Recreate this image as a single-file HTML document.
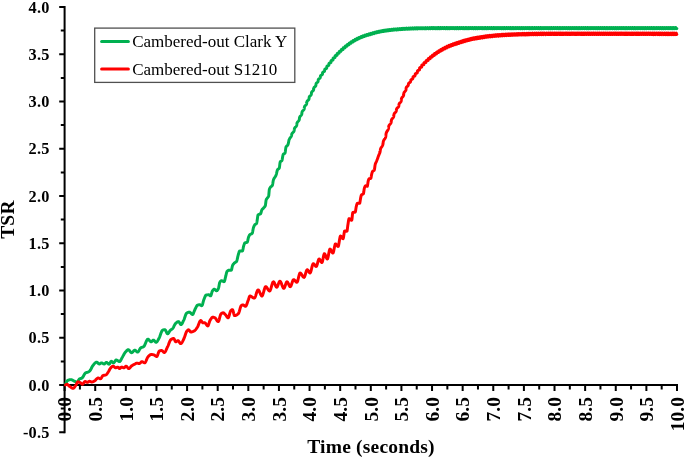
<!DOCTYPE html>
<html lang="en">
<head>
<meta charset="utf-8">
<title>TSR vs Time</title>
<style>
html,body{margin:0;padding:0;background:#fff;}
body{width:685px;height:458px;overflow:hidden;}
svg{display:block;will-change:transform;font-family:"Liberation Serif","Times New Roman",serif;}
.ax{stroke:#000;stroke-width:2;fill:none;stroke-linecap:butt;}
.yl text{font-size:16.3px;letter-spacing:0.25px;font-weight:700;text-anchor:end;fill:#000;}
.xl text{font-size:19.5px;font-weight:700;text-anchor:end;fill:#000;}
.ttl{font-size:19.5px;letter-spacing:0.2px;font-weight:700;text-anchor:middle;fill:#000;}
.lg text{font-size:17px;font-weight:400;fill:#000;}
.cv{fill:none;stroke-width:2.95;stroke-linecap:round;stroke-linejoin:round;}
</style>
</head>
<body>
<svg width="685" height="458" viewBox="0 0 685 458">
<rect x="0" y="0" width="685" height="458" fill="#fff"/>
<g class="ax">
<line x1="64.6" y1="6.0" x2="64.6" y2="433.25"/>
<line x1="63.599999999999994" y1="385.0" x2="678.0" y2="385.0"/>
<path d="M59.20 432.25H64.6M60.80 408.62H64.6M59.20 385.00H64.6M60.80 361.38H64.6M59.20 337.75H64.6M60.80 314.12H64.6M59.20 290.50H64.6M60.80 266.88H64.6M59.20 243.25H64.6M60.80 219.62H64.6M59.20 196.00H64.6M60.80 172.38H64.6M59.20 148.75H64.6M60.80 125.12H64.6M59.20 101.50H64.6M60.80 77.88H64.6M59.20 54.25H64.6M60.80 30.62H64.6M59.20 7.00H64.6M64.60 385.0V390.90M79.91 385.0V389.50M95.22 385.0V390.90M110.53 385.0V389.50M125.84 385.0V390.90M141.15 385.0V389.50M156.46 385.0V390.90M171.77 385.0V389.50M187.08 385.0V390.90M202.39 385.0V389.50M217.70 385.0V390.90M233.01 385.0V389.50M248.32 385.0V390.90M263.63 385.0V389.50M278.94 385.0V390.90M294.25 385.0V389.50M309.56 385.0V390.90M324.87 385.0V389.50M340.18 385.0V390.90M355.49 385.0V389.50M370.80 385.0V390.90M386.11 385.0V389.50M401.42 385.0V390.90M416.73 385.0V389.50M432.04 385.0V390.90M447.35 385.0V389.50M462.66 385.0V390.90M477.97 385.0V389.50M493.28 385.0V390.90M508.59 385.0V389.50M523.90 385.0V390.90M539.21 385.0V389.50M554.52 385.0V390.90M569.83 385.0V389.50M585.14 385.0V390.90M600.45 385.0V389.50M615.76 385.0V390.90M631.07 385.0V389.50M646.38 385.0V390.90M661.69 385.0V389.50M677.00 385.0V390.90"/>
</g>
<g class="yl">
<text x="49.7" y="437.85">-0.5</text>
<text x="49.7" y="390.60">0.0</text>
<text x="49.7" y="343.35">0.5</text>
<text x="49.7" y="296.10">1.0</text>
<text x="49.7" y="248.85">1.5</text>
<text x="49.7" y="201.60">2.0</text>
<text x="49.7" y="154.35">2.5</text>
<text x="49.7" y="107.10">3.0</text>
<text x="49.7" y="59.85">3.5</text>
<text x="49.7" y="12.60">4.0</text>
</g>
<g class="xl">
<text transform="translate(71.35 397.0) rotate(-90)">0.0</text>
<text transform="translate(101.97 397.0) rotate(-90)">0.5</text>
<text transform="translate(132.59 397.0) rotate(-90)">1.0</text>
<text transform="translate(163.21 397.0) rotate(-90)">1.5</text>
<text transform="translate(193.83 397.0) rotate(-90)">2.0</text>
<text transform="translate(224.45 397.0) rotate(-90)">2.5</text>
<text transform="translate(255.07 397.0) rotate(-90)">3.0</text>
<text transform="translate(285.69 397.0) rotate(-90)">3.5</text>
<text transform="translate(316.31 397.0) rotate(-90)">4.0</text>
<text transform="translate(346.93 397.0) rotate(-90)">4.5</text>
<text transform="translate(377.55 397.0) rotate(-90)">5.0</text>
<text transform="translate(408.17 397.0) rotate(-90)">5.5</text>
<text transform="translate(438.79 397.0) rotate(-90)">6.0</text>
<text transform="translate(469.41 397.0) rotate(-90)">6.5</text>
<text transform="translate(500.03 397.0) rotate(-90)">7.0</text>
<text transform="translate(530.65 397.0) rotate(-90)">7.5</text>
<text transform="translate(561.27 397.0) rotate(-90)">8.0</text>
<text transform="translate(591.89 397.0) rotate(-90)">8.5</text>
<text transform="translate(622.51 397.0) rotate(-90)">9.0</text>
<text transform="translate(653.13 397.0) rotate(-90)">9.5</text>
<text transform="translate(683.75 397.0) rotate(-90)">10.0</text>
</g>
<text class="ttl" x="371.0" y="453.4">Time (seconds)</text>
<text class="ttl" transform="translate(14.3 219.6) rotate(-90)">TSR</text>
<polyline class="cv" stroke="#00b050" points="65.50,384.40 65.75,383.78 66.00,383.17 66.25,382.58 66.50,382.04 66.75,381.54 67.00,381.12 67.25,380.79 67.50,380.56 67.75,380.43 68.00,380.31 68.25,380.20 68.50,380.10 68.75,380.00 69.00,379.92 69.25,379.84 69.50,379.78 69.75,379.72 70.00,379.67 70.25,379.64 70.50,379.62 70.75,379.60 71.00,379.60 71.25,379.63 71.50,379.70 71.75,379.79 72.00,379.90 72.25,380.02 72.50,380.16 72.75,380.31 73.00,380.46 73.25,380.61 73.50,380.76 73.75,380.90 74.00,381.02 74.25,381.12 74.50,381.22 74.75,381.33 75.00,381.44 75.25,381.55 75.50,381.66 75.75,381.76 76.00,381.84 76.25,381.91 76.50,381.97 76.75,381.99 77.00,381.99 77.25,381.88 77.50,381.67 77.75,381.37 78.00,381.02 78.25,380.64 78.50,380.23 78.75,379.84 79.00,379.48 79.25,379.16 79.50,378.92 79.75,378.78 80.00,378.69 80.25,378.61 80.50,378.55 80.75,378.50 81.00,378.45 81.25,378.39 81.50,378.31 81.75,378.22 82.00,378.08 82.25,377.86 82.50,377.58 82.75,377.23 83.00,376.84 83.25,376.41 83.50,375.96 83.75,375.50 84.00,375.04 84.25,374.59 84.50,374.16 84.75,373.77 85.00,373.42 85.25,373.14 85.50,372.92 85.75,372.78 86.00,372.68 86.25,372.61 86.50,372.55 86.75,372.49 87.00,372.44 87.25,372.38 87.50,372.31 87.75,372.22 88.00,372.11 88.25,371.98 88.50,371.84 88.75,371.67 89.00,371.49 89.25,371.29 89.50,371.08 89.75,370.85 90.00,370.60 90.25,370.31 90.50,369.94 90.75,369.51 91.00,369.04 91.25,368.53 91.50,368.02 91.75,367.50 92.00,367.01 92.25,366.54 92.50,366.12 92.75,365.76 93.00,365.45 93.25,365.14 93.50,364.82 93.75,364.50 94.00,364.18 94.25,363.88 94.50,363.59 94.75,363.31 95.00,363.06 95.25,362.83 95.50,362.63 95.75,362.47 96.00,362.34 96.25,362.25 96.50,362.20 96.75,362.22 97.00,362.31 97.25,362.46 97.50,362.67 97.75,362.90 98.00,363.15 98.25,363.40 98.50,363.62 98.75,363.81 99.00,363.94 99.25,364.00 99.50,363.97 99.75,363.88 100.00,363.74 100.25,363.56 100.50,363.38 100.75,363.20 101.00,363.04 101.25,362.94 101.50,362.90 101.75,362.93 102.00,363.00 102.25,363.11 102.50,363.24 102.75,363.39 103.00,363.54 103.25,363.69 103.50,363.82 103.75,363.92 104.00,363.98 104.25,364.00 104.50,363.92 104.75,363.75 105.00,363.52 105.25,363.25 105.50,362.98 105.75,362.74 106.00,362.54 106.25,362.42 106.50,362.41 106.75,362.48 107.00,362.63 107.25,362.82 107.50,363.05 107.75,363.30 108.00,363.55 108.25,363.78 108.50,363.97 108.75,364.12 109.00,364.19 109.25,364.16 109.50,363.95 109.75,363.59 110.00,363.14 110.25,362.65 110.50,362.17 110.75,361.75 111.00,361.45 111.25,361.30 111.50,361.34 111.75,361.47 112.00,361.68 112.25,361.94 112.50,362.21 112.75,362.47 113.00,362.69 113.25,362.84 113.50,362.90 113.75,362.83 114.00,362.64 114.25,362.35 114.50,362.00 114.75,361.61 115.00,361.21 115.25,360.82 115.50,360.48 115.75,360.21 116.00,360.05 116.25,360.00 116.50,360.04 116.75,360.12 117.00,360.24 117.25,360.38 117.50,360.55 117.75,360.73 118.00,360.91 118.25,361.09 118.50,361.25 118.75,361.39 119.00,361.50 119.25,361.57 119.50,361.60 119.75,361.53 120.00,361.35 120.25,361.07 120.50,360.70 120.75,360.27 121.00,359.80 121.25,359.30 121.50,358.79 121.75,358.30 122.00,357.84 122.25,357.42 122.50,357.01 122.75,356.57 123.00,356.12 123.25,355.66 123.50,355.19 123.75,354.73 124.00,354.27 124.25,353.83 124.50,353.40 124.75,353.00 125.00,352.63 125.25,352.29 125.50,352.00 125.75,351.72 126.00,351.44 126.25,351.15 126.50,350.88 126.75,350.62 127.00,350.37 127.25,350.16 127.50,349.98 127.75,349.84 128.00,349.74 128.25,349.70 128.50,349.73 128.75,349.85 129.00,350.05 129.25,350.30 129.50,350.60 129.75,350.93 130.00,351.27 130.25,351.60 130.50,351.92 130.75,352.21 131.00,352.44 131.25,352.61 131.50,352.69 131.75,352.68 132.00,352.59 132.25,352.43 132.50,352.22 132.75,351.96 133.00,351.68 133.25,351.39 133.50,351.10 133.75,350.83 134.00,350.59 134.25,350.40 134.50,350.26 134.75,350.20 135.00,350.23 135.25,350.33 135.50,350.50 135.75,350.71 136.00,350.95 136.25,351.20 136.50,351.45 136.75,351.68 137.00,351.88 137.25,352.02 137.50,352.09 137.75,352.08 138.00,351.94 138.25,351.70 138.50,351.38 138.75,350.99 139.00,350.56 139.25,350.10 139.50,349.63 139.75,349.17 140.00,348.74 140.25,348.36 140.50,348.05 140.75,347.83 141.00,347.69 141.25,347.57 141.50,347.47 141.75,347.39 142.00,347.31 142.25,347.24 142.50,347.17 142.75,347.09 143.00,347.00 143.25,346.89 143.50,346.76 143.75,346.59 144.00,346.32 144.25,345.95 144.50,345.51 144.75,345.00 145.00,344.44 145.25,343.85 145.50,343.24 145.75,342.62 146.00,342.01 146.25,341.43 146.50,340.88 146.75,340.38 147.00,339.96 147.25,339.61 147.50,339.36 147.75,339.22 148.00,339.21 148.25,339.28 148.50,339.43 148.75,339.63 149.00,339.87 149.25,340.15 149.50,340.44 149.75,340.74 150.00,341.02 150.25,341.28 150.50,341.50 150.75,341.67 151.00,341.77 151.25,341.80 151.50,341.71 151.75,341.53 152.00,341.29 152.25,341.01 152.50,340.72 152.75,340.46 153.00,340.25 153.25,340.12 153.50,340.11 153.75,340.20 154.00,340.38 154.25,340.62 154.50,340.90 154.75,341.20 155.00,341.50 155.25,341.78 155.50,342.02 155.75,342.20 156.00,342.29 156.25,342.28 156.50,342.17 156.75,341.97 157.00,341.70 157.25,341.37 157.50,340.98 157.75,340.56 158.00,340.11 158.25,339.66 158.50,339.20 158.75,338.75 159.00,338.33 159.25,337.83 159.50,337.26 159.75,336.62 160.00,335.94 160.25,335.24 160.50,334.52 160.75,333.80 161.00,333.10 161.25,332.44 161.50,331.83 161.75,331.28 162.00,330.82 162.25,330.46 162.50,330.21 162.75,330.08 163.00,330.01 163.25,329.94 163.50,329.88 163.75,329.82 164.00,329.78 164.25,329.74 164.50,329.72 164.75,329.70 165.00,329.72 165.25,329.89 165.50,330.22 165.75,330.66 166.00,331.19 166.25,331.75 166.50,332.31 166.75,332.84 167.00,333.28 167.25,333.61 167.50,333.78 167.75,333.78 168.00,333.64 168.25,333.40 168.50,333.08 168.75,332.70 169.00,332.28 169.25,331.84 169.50,331.41 169.75,331.00 170.00,330.64 170.25,330.35 170.50,330.13 170.75,329.94 171.00,329.77 171.25,329.61 171.50,329.46 171.75,329.30 172.00,329.12 172.25,328.93 172.50,328.70 172.75,328.41 173.00,328.06 173.25,327.65 173.50,327.19 173.75,326.71 174.00,326.20 174.25,325.69 174.50,325.19 174.75,324.71 175.00,324.26 175.25,323.86 175.50,323.52 175.75,323.24 176.00,323.03 176.25,322.81 176.50,322.60 176.75,322.40 177.00,322.21 177.25,322.04 177.50,321.90 177.75,321.77 178.00,321.68 178.25,321.62 178.50,321.60 178.75,321.68 179.00,321.91 179.25,322.25 179.50,322.66 179.75,323.10 180.00,323.54 180.25,323.95 180.50,324.29 180.75,324.52 181.00,324.60 181.25,324.53 181.50,324.35 181.75,324.07 182.00,323.70 182.25,323.26 182.50,322.78 182.75,322.26 183.00,321.73 183.25,321.20 183.50,320.69 183.75,320.19 184.00,319.61 184.25,318.94 184.50,318.21 184.75,317.46 185.00,316.70 185.25,315.95 185.50,315.24 185.75,314.60 186.00,314.04 186.25,313.59 186.50,313.28 186.75,313.10 187.00,312.93 187.25,312.78 187.50,312.64 187.75,312.51 188.00,312.40 188.25,312.30 188.50,312.22 188.75,312.16 189.00,312.12 189.25,312.10 189.50,312.13 189.75,312.22 190.00,312.38 190.25,312.58 190.50,312.82 190.75,313.08 191.00,313.35 191.25,313.62 191.50,313.88 191.75,314.10 192.00,314.29 192.25,314.42 192.50,314.49 192.75,314.45 193.00,314.20 193.25,313.76 193.50,313.19 193.75,312.53 194.00,311.84 194.25,311.15 194.50,310.53 194.75,310.00 195.00,309.50 195.25,308.96 195.50,308.41 195.75,307.86 196.00,307.32 196.25,306.82 196.50,306.35 196.75,305.94 197.00,305.60 197.25,305.35 197.50,305.20 197.75,305.11 198.00,305.02 198.25,304.94 198.50,304.87 198.75,304.81 199.00,304.76 199.25,304.73 199.50,304.71 199.75,304.70 200.00,304.76 200.25,304.87 200.50,305.02 200.75,305.20 201.00,305.38 201.25,305.53 201.50,305.64 201.75,305.70 202.00,305.59 202.25,305.17 202.50,304.50 202.75,303.65 203.00,302.70 203.25,301.71 203.50,300.75 203.75,299.89 204.00,299.20 204.25,298.60 204.50,297.97 204.75,297.34 205.00,296.73 205.25,296.18 205.50,295.70 205.75,295.33 206.00,295.08 206.25,294.99 206.50,294.96 206.75,294.93 207.00,294.90 207.25,294.88 207.50,294.85 207.75,294.84 208.00,294.82 208.25,294.81 208.50,294.80 208.75,294.80 209.00,294.81 209.25,294.92 209.50,295.11 209.75,295.35 210.00,295.59 210.25,295.78 210.50,295.89 210.75,295.82 211.00,295.38 211.25,294.66 211.50,293.77 211.75,292.83 212.00,291.96 212.25,291.27 212.50,290.86 212.75,290.51 213.00,290.18 213.25,289.88 213.50,289.61 213.75,289.41 214.00,289.26 214.25,289.20 214.50,289.23 214.75,289.36 215.00,289.55 215.25,289.79 215.50,290.05 215.75,290.31 216.00,290.53 216.25,290.70 216.50,290.79 216.75,290.78 217.00,290.65 217.25,290.41 217.50,290.09 217.75,289.69 218.00,289.24 218.25,288.73 218.50,288.20 218.75,287.34 219.00,286.03 219.25,284.58 219.50,283.27 219.75,282.40 220.00,281.99 220.25,281.63 220.50,281.32 220.75,281.06 221.00,280.87 221.25,280.74 221.50,280.70 221.75,280.73 222.00,280.80 222.25,280.90 222.50,281.03 222.75,281.17 223.00,281.31 223.25,281.45 223.50,281.56 223.75,281.65 224.00,281.70 224.25,281.61 224.50,281.14 224.75,280.34 225.00,279.34 225.25,278.24 225.50,277.17 225.75,276.22 226.00,275.17 226.25,274.02 226.50,272.92 226.75,272.03 227.00,271.50 227.25,271.22 227.50,270.97 227.75,270.75 228.00,270.56 228.25,270.41 228.50,270.29 228.75,270.22 229.00,270.20 229.25,270.20 229.50,270.20 229.75,270.20 230.00,270.20 230.25,270.20 230.50,270.20 230.75,270.20 231.00,270.20 231.25,270.20 231.50,269.94 231.75,269.04 232.00,267.80 232.25,266.53 232.50,265.54 232.75,265.03 233.00,264.62 233.25,264.27 233.50,263.96 233.75,263.68 234.00,263.43 234.25,263.20 234.50,262.98 234.75,262.76 235.00,262.57 235.25,262.41 235.50,262.28 235.75,262.13 236.00,261.97 236.25,261.77 236.50,261.50 236.75,261.02 237.00,260.23 237.25,259.23 237.50,258.09 237.75,256.92 238.00,255.79 238.25,254.80 238.50,253.99 238.75,253.15 239.00,252.32 239.25,251.61 239.50,251.13 239.75,251.00 240.00,251.00 240.25,251.00 240.50,251.00 240.75,251.00 241.00,251.00 241.25,251.00 241.50,251.00 241.75,251.00 242.00,251.00 242.25,251.00 242.50,250.93 242.75,250.27 243.00,249.14 243.25,247.80 243.50,246.55 243.75,245.65 244.00,244.90 244.25,244.17 244.50,243.53 244.75,243.05 245.00,242.80 245.25,242.71 245.50,242.64 245.75,242.60 246.00,242.57 246.25,242.54 246.50,242.50 246.75,242.45 247.00,242.38 247.25,242.26 247.50,241.68 247.75,240.64 248.00,239.39 248.25,238.19 248.50,237.30 248.75,236.66 249.00,236.06 249.25,235.52 249.50,235.08 249.75,234.75 250.00,234.53 250.25,234.36 250.50,234.24 250.75,234.14 251.00,234.05 251.25,233.95 251.50,233.84 251.75,233.70 252.00,233.50 252.25,233.23 252.50,232.47 252.75,231.24 253.00,229.82 253.25,228.48 253.50,227.50 253.75,226.82 254.00,226.22 254.25,225.68 254.50,225.23 254.75,224.86 255.00,224.59 255.25,224.39 255.50,224.25 255.75,224.11 256.00,223.96 256.25,223.75 256.50,223.45 256.75,222.85 257.00,221.45 257.25,219.80 257.50,218.05 257.75,216.09 258.00,215.00 258.25,214.76 258.50,214.58 258.75,214.46 259.00,214.37 259.25,214.30 259.50,214.24 259.75,214.18 260.00,214.09 260.25,213.96 260.50,213.79 260.75,213.47 261.00,212.78 261.25,211.86 261.50,210.91 261.75,210.12 262.00,209.65 262.25,209.32 262.50,209.05 262.75,208.82 263.00,208.60 263.25,208.38 263.50,208.12 263.75,207.83 264.00,207.56 264.25,207.31 264.50,207.03 264.75,206.70 265.00,206.30 265.25,205.78 265.50,204.95 265.75,202.78 266.00,200.58 266.25,199.69 266.50,199.17 266.75,198.78 267.00,198.44 267.25,198.08 267.50,197.71 267.75,197.42 268.00,197.14 268.25,196.80 268.50,196.33 268.75,195.56 269.00,192.75 269.25,189.86 269.50,188.95 269.75,188.31 270.00,187.83 270.25,187.46 270.50,187.13 270.75,186.82 271.00,186.59 271.25,186.41 271.50,186.24 271.75,186.06 272.00,185.84 272.25,185.53 272.50,185.04 272.75,183.79 273.00,182.13 273.25,180.61 273.50,179.71 273.75,179.09 274.00,178.56 274.25,178.11 274.50,177.72 274.75,177.36 275.00,177.02 275.25,176.65 275.50,176.25 275.75,175.79 276.00,175.25 276.25,174.55 276.50,173.58 276.75,172.46 277.00,171.36 277.25,170.42 277.50,169.80 277.75,169.46 278.00,169.23 278.25,169.06 278.50,168.90 278.75,168.72 279.00,168.46 279.25,168.09 279.50,167.05 279.75,164.90 280.00,162.79 280.25,161.83 280.50,161.55 280.75,161.37 281.00,161.24 281.25,161.13 281.50,160.99 281.75,160.78 282.00,160.39 282.25,159.33 282.50,157.81 282.75,156.23 283.00,154.95 283.25,154.34 283.50,154.09 283.75,153.93 284.00,153.81 284.25,153.71 284.50,153.58 284.75,153.39 285.00,153.10 285.25,152.05 285.50,150.14 285.75,148.18 286.00,147.00 286.25,146.56 286.50,146.24 286.75,146.01 287.00,145.82 287.25,145.63 287.50,145.39 287.75,145.06 288.00,144.57 288.25,143.76 288.50,142.66 288.75,141.37 289.00,140.00 289.10,139.82 289.19,139.64 289.27,139.45 289.36,139.26 289.45,139.07 289.54,138.89 289.63,138.70 289.73,138.52 289.83,138.34 289.94,138.16 290.06,137.98 290.18,137.81 290.31,137.64 290.45,137.47 290.58,137.31 290.72,137.14 290.85,136.97 290.98,136.80 291.10,136.62 291.21,136.43 291.31,136.24 291.39,136.04 291.46,135.83 291.52,135.62 291.57,135.40 291.61,135.18 291.64,134.95 291.67,134.72 291.71,134.49 291.75,134.26 291.81,134.05 291.88,133.84 291.98,133.64 292.09,133.45 292.22,133.26 292.36,133.09 292.52,132.92 292.69,132.75 292.86,132.58 293.04,132.42 293.21,132.25 293.38,132.08 293.54,131.90 293.68,131.72 293.81,131.52 293.92,131.32 294.02,131.11 294.09,130.89 294.15,130.66 294.19,130.43 294.23,130.18 294.25,129.94 294.28,129.69 294.30,129.44 294.33,129.20 294.37,128.96 294.42,128.73 294.49,128.50 294.57,128.28 294.68,128.07 294.80,127.87 294.94,127.67 295.10,127.49 295.27,127.31 295.44,127.13 295.62,126.95 295.80,126.77 295.97,126.59 296.13,126.41 296.28,126.22 296.41,126.02 296.53,125.81 296.62,125.59 296.70,125.36 296.76,125.12 296.80,124.88 296.83,124.63 296.85,124.38 296.87,124.12 296.90,123.87 296.92,123.61 296.96,123.37 297.01,123.12 297.08,122.89 297.17,122.66 297.28,122.45 297.41,122.24 297.55,122.03 297.71,121.84 297.88,121.65 298.06,121.46 298.24,121.28 298.42,121.09 298.59,120.90 298.75,120.71 298.90,120.50 299.02,120.29 299.13,120.07 299.21,119.85 299.28,119.61 299.33,119.37 299.37,119.12 299.39,118.86 299.41,118.60 299.43,118.35 299.45,118.09 299.48,117.84 299.53,117.60 299.59,117.36 299.67,117.13 299.78,116.91 299.90,116.71 300.04,116.51 300.20,116.31 300.37,116.13 300.55,115.94 300.73,115.76 300.91,115.58 301.08,115.39 301.25,115.20 301.39,115.00 301.52,114.80 301.63,114.58 301.71,114.35 301.78,114.12 301.83,113.88 301.86,113.63 301.89,113.37 301.90,113.12 301.92,112.86 301.94,112.61 301.98,112.36 302.02,112.12 302.09,111.88 302.17,111.66 302.28,111.44 302.41,111.24 302.55,111.05 302.72,110.86 302.89,110.68 303.07,110.50 303.26,110.32 303.44,110.14 303.61,109.96 303.77,109.78 303.90,109.58 304.02,109.38 304.12,109.16 304.20,108.94 304.25,108.71 304.29,108.47 304.32,108.22 304.34,107.97 304.36,107.72 304.37,107.47 304.40,107.23 304.44,106.99 304.50,106.76 304.58,106.54 304.68,106.33 304.80,106.13 304.94,105.94 305.10,105.76 305.27,105.59 305.46,105.42 305.64,105.25 305.82,105.08 306.00,104.91 306.16,104.73 306.30,104.55 306.42,104.35 306.52,104.14 306.60,103.93 306.66,103.70 306.70,103.47 306.72,103.22 306.74,102.98 306.75,102.73 306.77,102.49 306.80,102.25 306.84,102.01 306.90,101.79 306.98,101.57 307.08,101.37 307.21,101.18 307.35,101.00 307.52,100.83 307.69,100.66 307.88,100.50 308.06,100.34 308.24,100.18 308.41,100.01 308.57,99.83 308.71,99.65 308.82,99.46 308.91,99.25 308.98,99.03 309.03,98.81 309.07,98.57 309.09,98.33 309.10,98.09 309.12,97.84 309.14,97.60 309.17,97.37 309.22,97.14 309.29,96.92 309.38,96.72 309.49,96.52 309.63,96.34 309.79,96.17 309.96,96.01 310.14,95.85 310.33,95.69 310.51,95.53 310.69,95.37 310.85,95.20 311.00,95.02 311.12,94.84 311.22,94.64 311.29,94.43 311.35,94.20 311.38,93.97 311.40,93.73 311.42,93.49 311.43,93.25 311.45,93.01 311.48,92.78 311.52,92.55 311.59,92.34 311.68,92.13 311.79,91.94 311.93,91.76 312.09,91.60 312.26,91.44 312.44,91.28 312.63,91.13 312.81,90.98 312.99,90.82 313.15,90.66 313.30,90.49 313.42,90.30 313.52,90.11 313.59,89.90 313.64,89.68 313.67,89.45 313.69,89.22 313.70,88.98 313.72,88.74 313.73,88.51 313.77,88.28 313.82,88.06 313.89,87.85 313.98,87.66 314.10,87.48 314.24,87.31 314.41,87.15 314.58,87.00 314.77,86.85 314.96,86.71 315.14,86.56 315.32,86.41 315.47,86.25 315.61,86.08 315.72,85.90 315.80,85.70 315.87,85.49 315.91,85.27 315.93,85.05 315.95,84.81 315.96,84.57 315.97,84.34 316.00,84.11 316.04,83.89 316.10,83.68 316.18,83.48 316.29,83.30 316.43,83.13 316.58,82.97 316.76,82.82 316.94,82.68 317.13,82.54 317.32,82.41 317.50,82.26 317.66,82.11 317.80,81.95 317.92,81.78 318.01,81.59 318.08,81.39 318.13,81.18 318.15,80.96 318.17,80.73 318.17,80.50 318.18,80.27 318.20,80.04 318.24,79.82 318.29,79.62 318.37,79.43 318.48,79.26 318.61,79.10 318.77,78.96 318.95,78.83 319.13,78.71 319.33,78.59 319.52,78.48 319.70,78.36 319.87,78.23 320.01,78.09 320.13,77.93 320.22,77.76 320.29,77.58 320.33,77.38 320.35,77.17 320.36,76.95 320.36,76.73 320.37,76.51 320.39,76.29 320.42,76.09 320.48,75.90 320.56,75.73 320.68,75.58 320.82,75.45 320.98,75.33 321.16,75.23 321.35,75.13 321.55,75.04 321.75,74.94 321.93,74.84 322.09,74.73 322.23,74.60 322.34,74.45 322.42,74.29 322.48,74.11 322.51,73.91 322.52,73.70 322.53,73.49 322.53,73.27 322.53,73.06 322.55,72.85 322.59,72.66 322.66,72.49 322.76,72.34 322.88,72.20 323.03,72.09 323.21,71.99 323.40,71.91 323.60,71.83 323.80,71.75 323.99,71.67 324.17,71.57 324.32,71.46 324.45,71.33 324.54,71.18 324.61,71.02 324.65,70.83 324.67,70.63 324.67,70.42 324.67,70.20 324.67,69.98 324.68,69.78 324.70,69.58 324.76,69.41 324.84,69.25 324.96,69.12 325.10,69.01 325.27,68.91 325.46,68.83 325.67,68.76 325.87,68.69 326.07,68.62 326.26,68.54 326.42,68.44 326.56,68.32 326.66,68.18 326.73,68.02 326.77,67.84 326.79,67.64 326.79,67.43 326.79,67.21 326.78,67.00 326.79,66.79 326.81,66.59 326.86,66.42 326.93,66.26 327.05,66.13 327.19,66.02 327.36,65.93 327.55,65.86 327.75,65.80 327.96,65.74 328.17,65.68 328.36,65.61 328.52,65.52 328.66,65.41 328.77,65.28 328.84,65.13 328.88,64.95 328.90,64.75 328.90,64.54 328.89,64.33 328.88,64.11 328.88,63.90 328.90,63.71 328.95,63.54 329.03,63.39 329.14,63.26 329.28,63.17 329.46,63.09 329.65,63.03 329.86,62.98 330.07,62.94 330.28,62.89 330.47,62.83 330.63,62.75 330.77,62.65 330.87,62.52 330.94,62.37 330.98,62.20 330.99,62.00 330.98,61.79 330.97,61.58 330.96,61.36 330.96,61.16 330.99,60.97 331.04,60.81 331.12,60.67 331.24,60.56 331.40,60.48 331.58,60.42 331.78,60.37 331.99,60.34 332.20,60.31 332.41,60.27 332.59,60.21 332.75,60.14 332.88,60.04 332.97,59.91 333.03,59.75 333.05,59.57 333.06,59.37 333.05,59.15 333.03,58.94 333.02,58.72 333.03,58.53 333.06,58.35 333.12,58.20 333.22,58.07 333.36,57.98 333.52,57.91 333.71,57.87 333.92,57.84 334.14,57.82 334.35,57.80 334.55,57.77 334.73,57.71 334.87,57.63 334.98,57.53 335.06,57.39 335.10,57.22 335.11,57.03 335.10,56.83 335.09,56.61 335.07,56.40 335.07,56.19 335.09,56.00 335.14,55.84 335.22,55.71 335.34,55.62 335.49,55.55 335.67,55.51 335.87,55.49 336.09,55.48 336.30,55.48 336.51,55.47 336.70,55.44 336.85,55.38 336.98,55.30 337.07,55.18 337.12,55.03 337.14,54.86 337.14,54.66 337.13,54.44 337.11,54.23 337.11,54.02 337.12,53.83 337.16,53.67 337.23,53.53 337.33,53.44 337.48,53.37 337.65,53.34 337.84,53.33 338.06,53.34 338.27,53.36 338.48,53.36 338.67,53.35 338.84,53.32 338.97,53.25 339.07,53.15 339.13,53.01 339.16,52.85 339.17,52.65 339.16,52.44 339.14,52.23 339.13,52.02 339.14,51.82 339.17,51.65 339.23,51.52 339.33,51.42 339.47,51.36 339.63,51.33 339.83,51.33 340.04,51.34 340.25,51.37 340.46,51.39 340.66,51.39 340.83,51.37 340.96,51.32 341.07,51.23 341.13,51.10 341.17,50.93 341.18,50.74 341.17,50.53 341.15,50.32 341.14,50.10 341.15,49.91 341.18,49.74 341.24,49.60 341.33,49.51 341.47,49.45 341.63,49.43 341.82,49.44 342.03,49.46 342.25,49.50 342.46,49.53 342.65,49.55 342.82,49.54 342.96,49.49 343.06,49.41 343.13,49.29 343.17,49.12 343.17,48.93 343.17,48.72 343.15,48.51 343.14,48.29 343.15,48.10 343.18,47.93 343.24,47.80 343.34,47.71 343.48,47.66 343.64,47.65 343.83,47.67 344.04,47.71 344.25,47.76 344.46,47.81 344.65,47.83 344.82,47.83 344.95,47.79 345.05,47.71 345.12,47.59 345.15,47.43 345.16,47.23 345.15,47.02 345.14,46.80 345.14,46.59 345.15,46.40 345.18,46.24 345.25,46.12 345.35,46.04 345.49,46.00 345.66,46.01 345.85,46.04 346.06,46.10 346.27,46.16 346.47,46.22 346.66,46.25 346.82,46.25 346.95,46.21 347.04,46.13 347.10,46.00 347.13,45.84 347.14,45.64 347.13,45.42 347.12,45.20 347.12,44.99 347.14,44.81 347.18,44.66 347.26,44.55 347.37,44.49 347.51,44.47 347.68,44.49 347.88,44.54 348.08,44.61 348.29,44.68 348.49,44.74 348.67,44.77 348.82,44.77 348.94,44.72 349.03,44.63 349.08,44.49 349.10,44.31 349.11,44.11 349.10,43.89 349.09,43.67 349.10,43.47 349.12,43.29 349.18,43.15 349.26,43.06 349.38,43.02 349.54,43.02 349.72,43.06 349.91,43.13 350.12,43.21 350.32,43.29 350.51,43.35 350.68,43.38 350.82,43.37 350.93,43.31 351.00,43.21 351.05,43.05 351.06,42.87 351.06,42.65 351.06,42.43 351.06,42.21 351.07,42.02 351.11,41.86 351.18,41.74 351.28,41.67 351.41,41.65 351.58,41.68 351.76,41.75 351.96,41.83 352.16,41.93 352.36,42.01 352.54,42.07 352.69,42.10 352.81,42.07 352.91,42.00 352.97,41.88 353.00,41.71 353.01,41.51 353.02,41.29 353.02,41.07 353.03,40.86 353.06,40.68 353.11,40.54 353.19,40.45 353.31,40.41 353.45,40.43 353.62,40.48 353.81,40.57 354.01,40.68 354.20,40.78 354.39,40.87 354.55,40.93 354.69,40.94 354.79,40.90 354.87,40.80 354.92,40.66 354.95,40.48 354.96,40.26 354.97,40.04 354.98,39.82 355.00,39.63 355.05,39.47 355.12,39.36 355.22,39.31 355.35,39.31 355.51,39.36 355.68,39.44 355.87,39.55 356.06,39.67 356.24,39.78 356.41,39.86 356.55,39.90 356.67,39.89 356.77,39.82 356.83,39.70 356.87,39.54 356.89,39.34 356.91,39.12 356.92,38.90 356.94,38.69 356.98,38.52 357.05,38.39 357.13,38.32 357.25,38.30 357.39,38.33 357.56,38.41 357.74,38.52 357.92,38.65 358.10,38.77 358.27,38.87 358.42,38.93 358.55,38.95 358.65,38.91 358.73,38.81 358.78,38.66 358.81,38.47 358.84,38.26 358.85,38.04 358.88,37.83 358.92,37.64 358.97,37.50 359.05,37.41 359.16,37.37 359.29,37.40 359.44,37.47 359.61,37.58 359.79,37.71 359.97,37.84 360.14,37.95 360.30,38.04 360.43,38.07 360.54,38.06 360.62,37.98 360.69,37.85 360.73,37.68 360.76,37.47 360.78,37.25 360.81,37.03 360.84,36.84 360.90,36.68 360.97,36.58 361.07,36.53 361.19,36.54 361.34,36.61 361.50,36.71 361.67,36.84 361.84,36.98 362.01,37.11 362.17,37.21 362.31,37.27 362.42,37.27 362.51,37.21 362.58,37.10 362.64,36.94 362.67,36.74 362.70,36.52 362.73,36.30 362.77,36.10 362.82,35.94 362.89,35.82 362.99,35.76 363.10,35.76 363.24,35.82 363.39,35.92 363.56,36.05 363.72,36.20 363.89,36.34 364.04,36.45 364.18,36.53 364.30,36.55 364.40,36.51 364.48,36.41 364.54,36.27 364.58,36.08 364.62,35.86 364.65,35.64 364.69,35.44 364.75,35.27 364.82,35.14 364.91,35.07 365.02,35.06 365.14,35.11 365.29,35.21 365.45,35.34 365.61,35.49 365.77,35.64 365.92,35.77 366.06,35.86 366.18,35.89 366.28,35.87 366.37,35.79 366.43,35.65 366.48,35.47 366.53,35.26 366.57,35.05 366.61,34.84 366.67,34.66 366.74,34.53 366.82,34.45 366.93,34.43 367.05,34.47 367.19,34.57 367.34,34.70 367.50,34.85 367.65,35.01 367.80,35.15 367.94,35.25 368.07,35.30 368.17,35.29 368.26,35.22 368.33,35.09 368.39,34.92 368.43,34.71 368.48,34.49 368.53,34.28 368.58,34.10 368.65,33.96 368.73,33.87 368.83,33.85 368.95,33.89 369.09,33.98 369.24,34.11 369.39,34.26 369.54,34.42 369.69,34.56 369.83,34.67 369.96,34.73 370.07,34.73 370.16,34.67 370.23,34.55 370.29,34.38 370.34,34.18 370.39,33.97 370.43,33.75 370.49,33.57 370.56,33.42 370.64,33.33 370.74,33.30 370.85,33.33 370.99,33.42 371.13,33.54 371.28,33.70 371.44,33.86 371.59,34.00 371.73,34.12 371.85,34.18 371.96,34.19 372.06,34.14 372.13,34.02 372.19,33.86 372.25,33.66 372.29,33.45 372.34,33.23 372.39,33.04 372.46,32.89 372.54,32.79 372.64,32.76 372.75,32.78 372.88,32.86 373.03,32.99 373.18,33.14 373.33,33.30 373.48,33.45 373.62,33.57 373.75,33.64 373.86,33.66 373.95,33.61 374.03,33.50 374.10,33.34 374.15,33.14 374.20,32.93 374.25,32.71 374.30,32.52 374.37,32.37 374.45,32.27 374.54,32.23 374.66,32.25 374.79,32.33 374.93,32.45 375.08,32.61 375.23,32.77 375.38,32.92 375.51,33.05 375.64,33.12 375.75,33.14 375.85,33.10 375.93,32.99 375.99,32.84 376.05,32.64 376.10,32.43 376.15,32.21 376.21,32.02 376.28,31.87 376.36,31.77 376.46,31.73 376.57,31.75 376.70,31.83 376.83,31.96 376.98,32.11 377.12,32.28 377.27,32.44 377.40,32.57 377.53,32.65 377.64,32.67 377.73,32.63 377.81,32.53 377.88,32.38 377.94,32.18 378.00,31.97 378.06,31.76 378.12,31.57 378.19,31.42 378.28,31.32 378.37,31.28 378.49,31.31 378.61,31.39 378.74,31.52 378.88,31.68 379.02,31.86 379.16,32.02 379.29,32.15 379.41,32.24 379.52,32.26 379.62,32.22 379.70,32.13 379.77,31.97 379.84,31.78 379.90,31.57 379.96,31.36 380.03,31.17 380.10,31.02 380.19,30.92 380.28,30.89 380.39,30.92 380.52,31.01 380.65,31.14 380.78,31.30 380.92,31.48 381.05,31.64 381.18,31.78 381.30,31.86 381.41,31.89 381.51,31.85 381.59,31.75 381.67,31.60 381.73,31.41 381.80,31.20 381.86,30.99 381.93,30.80 382.01,30.65 382.09,30.56 382.19,30.53 382.30,30.56 382.42,30.65 382.55,30.79 382.68,30.96 382.82,31.13 382.95,31.30 383.08,31.43 383.20,31.52 383.30,31.54 383.40,31.51 383.48,31.41 383.56,31.25 383.63,31.06 383.70,30.85 383.76,30.64 383.84,30.46 383.92,30.31 384.00,30.22 384.10,30.20 384.21,30.23 384.33,30.33 384.46,30.47 384.59,30.64 384.72,30.82 384.85,30.99 384.97,31.12 385.09,31.21 385.19,31.23 385.29,31.19 385.37,31.09 385.45,30.94 385.52,30.75 385.60,30.54 385.67,30.33 385.74,30.15 385.82,30.01 385.92,29.92 386.02,29.90 386.12,29.95 386.24,30.05 386.36,30.20 386.49,30.37 386.62,30.55 386.74,30.72 386.86,30.86 386.98,30.94 387.08,30.96 387.18,30.92 387.26,30.81 387.34,30.66 387.42,30.46 387.49,30.26 387.57,30.05 387.65,29.87 387.73,29.74 387.83,29.66 387.93,29.65 388.04,29.70 388.15,29.81 388.27,29.96 388.39,30.14 388.52,30.33 388.64,30.49 388.76,30.63 388.87,30.70 388.97,30.72 389.07,30.68 389.15,30.57 389.24,30.41 389.32,30.21 389.39,30.01 389.47,29.80 389.55,29.63 389.64,29.50 389.73,29.43 389.83,29.43 389.94,29.49 390.06,29.60 390.18,29.76 390.30,29.94 390.42,30.13 390.54,30.29 390.65,30.42 390.76,30.50 390.86,30.51 390.96,30.46 391.05,30.34 391.13,30.18 391.21,29.99 391.29,29.78 391.37,29.58 391.46,29.41 391.54,29.29 391.64,29.23 391.74,29.23 391.85,29.29 391.96,29.42 392.08,29.58 392.20,29.76 392.32,29.95 392.44,30.11 392.55,30.24 392.66,30.31 392.76,30.32 392.85,30.26 392.94,30.14 393.03,29.97 393.11,29.77 393.19,29.57 393.27,29.37 393.36,29.21 393.45,29.09 393.54,29.04 393.65,29.05 393.75,29.12 393.87,29.25 393.98,29.42 394.10,29.61 394.22,29.79 394.33,29.95 394.45,30.07 394.55,30.14 394.65,30.14 394.75,30.07 394.84,29.95 394.92,29.78 395.01,29.58 395.09,29.37 395.17,29.18 395.26,29.02 395.35,28.91 395.45,28.87 395.55,28.89 395.66,28.97 395.77,29.11 395.89,29.28 396.00,29.47 396.12,29.65 396.23,29.81 396.34,29.92 396.45,29.98 396.55,29.97 396.64,29.90 396.73,29.77 396.82,29.59 396.90,29.39 396.99,29.19 397.07,29.00 397.16,28.85 397.25,28.75 397.35,28.71 397.46,28.74 397.56,28.83 397.68,28.98 397.79,29.15 397.91,29.34 398.02,29.52 398.13,29.68 398.24,29.79 398.35,29.84 398.44,29.82 398.54,29.74 398.63,29.60 398.72,29.42 398.80,29.22 398.89,29.01 398.97,28.83 399.06,28.69 399.16,28.60 399.26,28.57 399.36,28.61 399.47,28.71 399.58,28.86 399.69,29.04 399.81,29.23 399.92,29.41 400.03,29.56 400.14,29.66 400.24,29.70 400.34,29.67 400.43,29.58 400.53,29.44 400.61,29.26 400.70,29.05 400.79,28.85 400.87,28.67 400.97,28.54 401.06,28.45 401.16,28.44 401.26,28.49 401.37,28.60 401.48,28.75 401.60,28.94 401.71,29.13 401.82,29.30 401.93,29.45 402.04,29.54 402.14,29.57 402.24,29.54 402.33,29.44 402.42,29.29 402.51,29.10 402.60,28.90 402.69,28.70 402.77,28.52 402.87,28.40 402.96,28.33 403.06,28.32 403.17,28.38 403.28,28.50 403.39,28.66 403.50,28.85 403.61,29.04 403.72,29.21 403.83,29.35 403.93,29.43 404.03,29.46 404.13,29.41 404.23,29.30 404.32,29.15 404.41,28.96 404.50,28.75 404.59,28.56 404.68,28.39 404.77,28.27 404.87,28.21 404.97,28.22 405.07,28.29 405.18,28.41 405.29,28.58 405.40,28.77 405.51,28.96 405.62,29.13 405.73,29.26 405.83,29.34 405.93,29.35 406.03,29.29 406.12,29.18 406.22,29.01 406.30,28.82 406.39,28.61 406.48,28.42 406.58,28.26 406.67,28.15 406.77,28.10 406.87,28.12 406.97,28.20 407.08,28.34 407.19,28.51 407.30,28.70 407.41,28.89 407.52,29.06 407.63,29.18 407.73,29.24 407.83,29.24 407.93,29.18 408.02,29.05 408.11,28.88 408.20,28.68 408.29,28.48 408.38,28.29 408.48,28.14 408.57,28.04 408.67,28.00 408.77,28.03 408.88,28.12 408.98,28.27 409.09,28.44 409.20,28.64 409.31,28.83 409.42,28.99 409.53,29.10 409.63,29.15 409.73,29.14 409.82,29.07 409.92,28.93 410.01,28.76 410.10,28.56 410.19,28.36 410.28,28.17 410.38,28.03 410.47,27.94 410.57,27.92 410.68,27.96 410.78,28.06 410.89,28.21 411.00,28.39 411.10,28.59 411.21,28.77 411.32,28.93 411.42,29.03 411.52,29.07 411.62,29.05 411.72,28.97 411.81,28.82 411.91,28.64 412.00,28.44 412.09,28.24 412.19,28.07 412.28,27.93 412.38,27.86 412.48,27.84 412.58,27.90 412.69,28.01 412.79,28.17 412.90,28.36 413.00,28.55 413.11,28.74 413.21,28.88 413.32,28.98 413.42,29.01 413.52,28.98 413.61,28.88 413.71,28.73 413.80,28.55 413.90,28.35 413.99,28.15 414.09,27.98 414.19,27.86 414.28,27.79 414.39,27.79 414.49,27.86 414.59,27.98 414.69,28.15 414.80,28.34 414.90,28.54 415.01,28.72 415.11,28.86 415.21,28.94 415.31,28.96 415.41,28.92 415.51,28.81 415.61,28.65 415.70,28.46 415.80,28.26 415.89,28.07 415.99,27.91 416.09,27.80 416.19,27.74 416.29,27.76 416.39,27.84 416.49,27.97 416.60,28.14 416.70,28.34 416.80,28.53 416.91,28.70 417.01,28.83 417.11,28.91 417.21,28.92 417.31,28.86 417.41,28.74 417.51,28.58 417.60,28.39 417.70,28.18 417.79,28.00 417.89,27.84 417.99,27.74 418.09,27.70 418.19,27.73 418.29,27.82 418.39,27.96 418.50,28.14 418.60,28.34 418.70,28.53 418.81,28.69 418.91,28.81 419.01,28.88 419.11,28.87 419.21,28.80 419.31,28.68 419.40,28.51 419.50,28.31 419.60,28.11 419.69,27.93 419.79,27.79 419.89,27.69 419.99,27.67 420.09,27.71 420.19,27.81 420.30,27.96 420.40,28.14 420.50,28.34 420.60,28.53 420.71,28.69 420.81,28.80 420.91,28.85 421.01,28.83 421.11,28.75 421.21,28.62 421.30,28.44 421.40,28.24 421.50,28.04 421.59,27.87 421.69,27.73 421.79,27.65 421.89,27.64 421.99,27.69 422.09,27.80 422.20,27.96 422.30,28.15 422.40,28.35 422.50,28.54 422.61,28.69 422.71,28.79 422.81,28.82 422.91,28.80 423.01,28.70 423.10,28.56 423.20,28.38 423.30,28.18 423.40,27.98 423.50,27.81 423.59,27.69 423.69,27.62 423.79,27.62 423.89,27.69 424.00,27.81 424.10,27.98 424.20,28.17 424.30,28.37 424.40,28.55 424.51,28.69 424.61,28.78 424.71,28.80 424.81,28.76 424.90,28.66 425.00,28.51 425.10,28.32 425.20,28.12 425.30,27.93 425.40,27.76 425.49,27.65 425.59,27.60 425.69,27.61 425.79,27.69 425.90,27.82 426.00,27.99 426.10,28.19 426.20,28.38 426.30,28.56 426.40,28.69 426.51,28.77 426.61,28.78 426.71,28.73 426.80,28.61 426.90,28.45 427.00,28.26 427.10,28.06 427.20,27.87 427.30,27.72 427.39,27.62 427.49,27.58 427.59,27.60 427.70,27.69 427.80,27.83 427.90,28.01 428.00,28.21 428.10,28.40 428.20,28.57 428.30,28.69 428.41,28.76 428.51,28.76 428.60,28.69 428.70,28.57 428.80,28.40 428.90,28.20 429.00,28.00 429.10,27.82 429.20,27.68 429.29,27.59 429.39,27.56 429.49,27.60 429.60,27.70 429.70,27.85 429.80,28.03 429.90,28.23 430.00,28.42 430.10,28.58 430.20,28.69 430.31,28.75 430.41,28.73 430.50,28.65 430.60,28.52 430.70,28.34 430.80,28.15 430.90,27.95 431.00,27.77 431.10,27.64 431.20,27.56 431.30,27.54 431.40,27.60 431.50,27.71 431.60,27.87 431.70,28.06 431.80,28.25 431.90,28.44 432.00,28.59 432.10,28.69 432.20,28.73 432.30,28.71 432.40,28.62 432.50,28.47 432.60,28.29 432.70,28.09 432.80,27.90 432.90,27.73 433.00,27.60 433.10,27.54 433.20,27.53 433.30,27.60 433.40,27.72 433.50,27.89 433.60,28.08 433.70,28.28 433.80,28.46 433.90,28.60 434.00,28.69 434.10,28.72 434.20,28.68 434.30,28.58 434.40,28.43 434.50,28.24 434.60,28.04 434.70,27.85 434.80,27.69 434.90,27.57 435.00,27.52 435.10,27.53 435.20,27.61 435.30,27.74 435.40,27.91 435.50,28.11 435.60,28.31 435.70,28.48 435.80,28.62 435.90,28.69 436.00,28.71 436.10,28.65 436.20,28.54 436.30,28.38 436.40,28.19 436.50,27.99 436.60,27.80 436.70,27.65 436.80,27.55 436.90,27.51 437.00,27.53 437.10,27.62 437.20,27.76 437.30,27.94 437.40,28.14 437.50,28.34 437.60,28.50 437.70,28.63 437.80,28.69 437.90,28.69 438.00,28.63 438.10,28.51 438.20,28.34 438.30,28.14 438.40,27.94 438.50,27.76 438.60,27.62 438.70,27.53 438.80,27.50 438.90,27.54 439.00,27.64 439.10,27.79 439.20,27.98 439.30,28.18 439.40,28.37 439.50,28.53 439.60,28.64 439.70,28.70 439.80,28.68 439.90,28.61 440.00,28.47 440.10,28.30 440.20,28.10 440.30,27.90 440.40,27.73 440.50,27.60 440.60,27.52 440.70,27.50 440.80,27.56 440.90,27.67 441.00,27.83 441.10,28.02 441.20,28.22 441.30,28.40 441.40,28.56 441.50,28.66 441.60,28.70 441.70,28.67 441.80,28.58 441.90,28.44 442.00,28.26 442.10,28.06 442.20,27.87 442.30,27.70 442.40,27.57 442.50,27.51 442.60,27.51 442.70,27.57 442.80,27.70 442.90,27.86 443.00,28.06 443.10,28.26 443.20,28.44 443.30,28.58 443.40,28.67 443.50,28.70 443.60,28.66 443.70,28.56 443.80,28.41 443.90,28.22 444.00,28.02 444.10,27.83 444.20,27.67 444.30,27.56 444.40,27.50 444.50,27.52 444.60,27.59 444.70,27.73 444.80,27.90 444.90,28.10 445.00,28.30 445.10,28.47 445.20,28.60 445.30,28.68 445.40,28.70 445.50,28.64 445.60,28.53 445.70,28.37 445.80,28.18 445.90,27.98 446.00,27.80 446.10,27.64 446.20,27.54 446.30,27.50 446.40,27.53 446.50,27.62 446.60,27.76 446.70,27.94 446.80,28.14 446.90,28.33 447.00,28.50 447.10,28.63 447.20,28.69 447.30,28.69 447.40,28.63 447.50,28.50 447.60,28.34 447.70,28.14 447.80,27.94 447.90,27.76 448.00,27.62 448.10,27.53 448.20,27.50 448.30,27.54 448.40,27.64 448.50,27.79 448.60,27.98 448.70,28.18 448.80,28.37 448.90,28.53 449.00,28.64 449.10,28.70 449.20,28.68 449.30,28.61 449.40,28.47 449.50,28.30 449.60,28.10 449.70,27.90 449.80,27.73 449.90,27.59 450.00,27.52 450.10,27.50 450.20,27.56 450.30,27.67 450.40,27.83 450.50,28.02 450.60,28.22 450.70,28.40 450.80,28.56 450.90,28.66 451.00,28.70 451.10,28.67 451.20,28.58 451.30,28.44 451.40,28.26 451.50,28.06 451.60,27.87 451.70,27.70 451.80,27.57 451.90,27.51 452.00,27.51 452.10,27.57 452.20,27.70 452.30,27.86 452.40,28.06 452.50,28.26 452.60,28.44 452.70,28.58 452.80,28.67 452.90,28.70 453.00,28.66 453.10,28.56 453.20,28.41 453.30,28.22 453.40,28.02 453.50,27.83 453.60,27.67 453.70,27.56 453.80,27.50 453.90,27.52 454.00,27.59 454.10,27.73 454.20,27.90 454.30,28.10 454.40,28.30 454.50,28.47 454.60,28.61 454.70,28.68 454.80,28.70 454.90,28.64 455.00,28.53 455.10,28.37 455.20,28.18 455.30,27.98 455.40,27.79 455.50,27.64 455.60,27.54 455.70,27.50 455.80,27.53 455.90,27.62 456.00,27.76 456.10,27.94 456.20,28.14 456.30,28.33 456.40,28.50 456.50,28.63 456.60,28.69 456.70,28.69 456.80,28.63 456.90,28.50 457.00,28.33 457.10,28.14 457.20,27.94 457.30,27.76 457.40,27.62 457.50,27.53 457.60,27.50 457.70,27.54 457.80,27.64 457.90,27.79 458.00,27.98 458.10,28.18 458.20,28.37 458.30,28.53 458.40,28.64 458.50,28.70 458.60,28.68 458.70,28.61 458.80,28.47 458.90,28.30 459.00,28.10 459.10,27.90 459.20,27.73 459.30,27.59 459.40,27.52 459.50,27.50 459.60,27.56 459.70,27.67 459.80,27.83 459.90,28.02 460.00,28.22 460.10,28.41 460.20,28.56 460.30,28.66 460.40,28.70 460.50,28.67 460.60,28.58 460.70,28.44 460.80,28.26 460.90,28.06 461.00,27.87 461.10,27.70 461.20,27.57 461.30,27.51 461.40,27.51 461.50,27.57 461.60,27.70 461.70,27.87 461.80,28.06 461.90,28.26 462.00,28.44 462.10,28.58 462.20,28.67 462.30,28.70 462.40,28.66 462.50,28.56 462.60,28.41 462.70,28.22 462.80,28.02 462.90,27.83 463.00,27.67 463.10,27.56 463.20,27.50 463.30,27.52 463.40,27.59 463.50,27.73 463.60,27.90 463.70,28.10 463.80,28.30 463.90,28.47 464.00,28.61 464.10,28.68 464.20,28.70 464.30,28.64 464.40,28.53 464.50,28.37 464.60,28.18 464.70,27.98 464.80,27.79 464.90,27.64 465.00,27.54 465.10,27.50 465.20,27.53 465.30,27.62 465.40,27.76 465.50,27.94 465.60,28.14 465.70,28.33 465.80,28.50 465.90,28.63 466.00,28.69 466.10,28.69 466.20,28.63 466.30,28.50 466.40,28.33 466.50,28.14 466.60,27.94 466.70,27.76 466.80,27.62 466.90,27.53 467.00,27.50 467.10,27.54 467.20,27.64 467.30,27.79 467.40,27.98 467.50,28.18 467.60,28.37 467.70,28.53 467.80,28.64 467.90,28.70 468.00,28.68 468.10,28.61 468.20,28.47 468.30,28.30 468.40,28.10 468.50,27.90 468.60,27.73 468.70,27.59 468.80,27.52 468.90,27.50 469.00,27.56 469.10,27.67 469.20,27.83 469.30,28.02 469.40,28.22 469.50,28.41 469.60,28.56 469.70,28.66 469.80,28.70 469.90,28.67 470.00,28.58 470.10,28.44 470.20,28.26 470.30,28.06 470.40,27.87 470.50,27.70 470.60,27.57 470.70,27.51 470.80,27.51 470.90,27.57 471.00,27.70 471.10,27.87 471.20,28.06 471.30,28.26 471.40,28.44 471.50,28.58 471.60,28.67 471.70,28.70 471.80,28.66 471.90,28.56 472.00,28.41 472.10,28.22 472.20,28.02 472.30,27.83 472.40,27.67 472.50,27.56 472.60,27.50 472.70,27.52 472.80,27.59 472.90,27.73 473.00,27.90 473.10,28.10 473.20,28.30 473.30,28.47 473.40,28.61 473.50,28.68 473.60,28.70 473.70,28.64 473.80,28.53 473.90,28.37 474.00,28.18 474.10,27.98 474.20,27.79 474.30,27.64 474.40,27.54 474.50,27.50 474.60,27.53 474.70,27.62 474.80,27.76 474.90,27.94 475.00,28.14 475.10,28.33 475.20,28.50 475.30,28.63 475.40,28.69 475.50,28.69 475.60,28.63 475.70,28.50 475.80,28.33 475.90,28.14 476.00,27.94 476.10,27.76 476.20,27.62 476.30,27.53 476.40,27.50 476.50,27.54 476.60,27.64 476.70,27.79 476.80,27.98 476.90,28.18 477.00,28.37 477.10,28.53 477.20,28.64 477.30,28.70 477.40,28.68 477.50,28.61 477.60,28.47 477.70,28.30 477.80,28.10 477.90,27.90 478.00,27.73 478.10,27.59 478.20,27.52 478.30,27.50 478.40,27.56 478.50,27.67 478.60,27.83 478.70,28.02 478.80,28.22 478.90,28.41 479.00,28.56 479.10,28.66 479.20,28.70 479.30,28.67 479.40,28.58 479.50,28.44 479.60,28.26 479.70,28.06 479.80,27.86 479.90,27.70 480.00,27.57 480.10,27.51 480.20,27.51 480.30,27.57 480.40,27.70 480.50,27.87 480.60,28.06 480.70,28.26 480.80,28.44 480.90,28.58 481.00,28.67 481.10,28.70 481.20,28.66 481.30,28.56 481.40,28.40 481.50,28.22 481.60,28.02 481.70,27.83 481.80,27.67 481.90,27.56 482.00,27.50 482.10,27.52 482.20,27.59 482.30,27.73 482.40,27.90 482.50,28.10 482.60,28.30 482.70,28.47 482.80,28.61 482.90,28.68 483.00,28.70 483.10,28.64 483.20,28.53 483.30,28.37 483.40,28.18 483.50,27.98 483.60,27.79 483.70,27.64 483.80,27.54 483.90,27.50 484.00,27.53 484.10,27.62 484.20,27.76 484.30,27.94 484.40,28.14 484.50,28.34 484.60,28.50 484.70,28.63 484.80,28.69 484.90,28.69 485.00,28.63 485.10,28.50 485.20,28.33 485.30,28.14 485.40,27.94 485.50,27.76 485.60,27.62 485.70,27.53 485.80,27.50 485.90,27.54 486.00,27.64 486.10,27.80 486.20,27.98 486.30,28.18 486.40,28.37 486.50,28.53 486.60,28.64 486.70,28.70 486.80,28.68 486.90,28.61 487.00,28.47 487.10,28.30 487.20,28.10 487.30,27.90 487.40,27.73 487.50,27.59 487.60,27.52 487.70,27.50 487.80,27.56 487.90,27.67 488.00,27.83 488.10,28.02 488.20,28.22 488.30,28.41 488.40,28.56 488.50,28.66 488.60,28.70 488.70,28.67 488.80,28.58 488.90,28.44 489.00,28.26 489.10,28.06 489.20,27.86 489.30,27.70 489.40,27.57 489.50,27.51 489.60,27.51 489.70,27.57 489.80,27.70 489.90,27.87 490.00,28.06 490.10,28.26 490.20,28.44 490.30,28.58 490.40,28.67 490.50,28.70 490.60,28.66 490.70,28.56 490.80,28.40 490.90,28.22 491.00,28.02 491.10,27.83 491.20,27.67 491.30,27.56 491.40,27.50 491.50,27.52 491.60,27.60 491.70,27.73 491.80,27.90 491.90,28.10 492.00,28.30 492.10,28.47 492.20,28.61 492.30,28.68 492.40,28.70 492.50,28.64 492.60,28.53 492.70,28.37 492.80,28.18 492.90,27.98 493.00,27.79 493.10,27.64 493.20,27.54 493.30,27.50 493.40,27.53 493.50,27.62 493.60,27.76 493.70,27.94 493.80,28.14 493.90,28.34 494.00,28.50 494.10,28.63 494.20,28.69 494.30,28.69 494.40,28.63 494.50,28.50 494.60,28.33 494.70,28.14 494.80,27.94 494.90,27.76 495.00,27.62 495.10,27.53 495.20,27.50 495.30,27.54 495.40,27.64 495.50,27.80 495.60,27.98 495.70,28.18 495.80,28.37 495.90,28.53 496.00,28.65 496.10,28.70 496.20,28.68 496.30,28.60 496.40,28.47 496.50,28.29 496.60,28.10 496.70,27.90 496.80,27.73 496.90,27.59 497.00,27.52 497.10,27.50 497.20,27.56 497.30,27.67 497.40,27.83 497.50,28.02 497.60,28.22 497.70,28.41 497.80,28.56 497.90,28.66 498.00,28.70 498.10,28.67 498.20,28.58 498.30,28.44 498.40,28.26 498.50,28.06 498.60,27.86 498.70,27.70 498.80,27.57 498.90,27.51 499.00,27.51 499.10,27.57 499.20,27.70 499.30,27.87 499.40,28.06 499.50,28.26 499.60,28.44 499.70,28.58 499.80,28.67 499.90,28.70 500.00,28.66 500.10,28.56 500.20,28.40 500.30,28.22 500.40,28.02 500.50,27.83 500.60,27.67 500.70,27.55 500.80,27.50 500.90,27.52 501.00,27.60 501.10,27.73 501.20,27.91 501.30,28.10 501.40,28.30 501.50,28.47 501.60,28.61 501.70,28.68 501.80,28.70 501.90,28.64 502.00,28.53 502.10,28.37 502.20,28.18 502.30,27.98 502.40,27.79 502.50,27.64 502.60,27.54 502.70,27.50 502.80,27.53 502.90,27.62 503.00,27.76 503.10,27.94 503.20,28.14 503.30,28.34 503.40,28.50 503.50,28.63 503.60,28.69 503.70,28.69 503.80,28.62 503.90,28.50 504.00,28.33 504.10,28.14 504.20,27.94 504.30,27.76 504.40,27.62 504.50,27.53 504.60,27.50 504.70,27.54 504.80,27.64 504.90,27.80 505.00,27.98 505.10,28.18 505.20,28.37 505.30,28.53 505.40,28.65 505.50,28.70 505.60,28.68 505.70,28.60 505.80,28.47 505.90,28.29 506.00,28.10 506.10,27.90 506.20,27.73 506.30,27.59 506.40,27.52 506.50,27.50 506.60,27.56 506.70,27.67 506.80,27.83 506.90,28.02 507.00,28.22 507.10,28.41 507.20,28.56 507.30,28.66 507.40,28.70 507.50,28.67 507.60,28.58 507.70,28.44 507.80,28.26 507.90,28.06 508.00,27.86 508.10,27.70 508.20,27.57 508.30,27.51 508.40,27.51 508.50,27.58 508.60,27.70 508.70,27.87 508.80,28.06 508.90,28.26 509.00,28.44 509.10,28.58 509.20,28.67 509.30,28.70 509.40,28.66 509.50,28.56 509.60,28.40 509.70,28.22 509.80,28.02 509.90,27.83 510.00,27.67 510.10,27.55 510.20,27.50 510.30,27.52 510.40,27.60 510.50,27.73 510.60,27.91 510.70,28.10 510.80,28.30 510.90,28.47 511.00,28.61 511.10,28.68 511.20,28.70 511.30,28.64 511.40,28.53 511.50,28.37 511.60,28.18 511.70,27.98 511.80,27.79 511.90,27.64 512.00,27.54 512.10,27.50 512.20,27.53 512.30,27.62 512.40,27.76 512.50,27.94 512.60,28.14 512.70,28.34 512.80,28.50 512.90,28.63 513.00,28.69 513.10,28.69 513.20,28.62 513.30,28.50 513.40,28.33 513.50,28.14 513.60,27.94 513.70,27.76 513.80,27.62 513.90,27.53 514.00,27.50 514.10,27.54 514.20,27.64 514.30,27.80 514.40,27.98 514.50,28.18 514.60,28.37 514.70,28.53 514.80,28.65 514.90,28.70 515.00,28.68 515.10,28.60 515.20,28.47 515.30,28.29 515.40,28.10 515.50,27.90 515.60,27.73 515.70,27.59 515.80,27.52 515.90,27.50 516.00,27.56 516.10,27.67 516.20,27.83 516.30,28.02 516.40,28.22 516.50,28.41 516.60,28.56 516.70,28.66 516.80,28.70 516.90,28.67 517.00,28.58 517.10,28.44 517.20,28.26 517.30,28.06 517.40,27.86 517.50,27.70 517.60,27.57 517.70,27.51 517.80,27.51 517.90,27.58 518.00,27.70 518.10,27.87 518.20,28.06 518.30,28.26 518.40,28.44 518.50,28.59 518.60,28.67 518.70,28.70 518.80,28.66 518.90,28.56 519.00,28.40 519.10,28.22 519.20,28.02 519.30,27.83 519.40,27.67 519.50,27.55 519.60,27.50 519.70,27.52 519.80,27.60 519.90,27.73 520.00,27.91 520.10,28.10 520.20,28.30 520.30,28.47 520.40,28.61 520.50,28.68 520.60,28.70 520.70,28.64 520.80,28.53 520.90,28.37 521.00,28.18 521.10,27.98 521.20,27.79 521.30,27.64 521.40,27.54 521.50,27.50 521.60,27.53 521.70,27.62 521.80,27.76 521.90,27.94 522.00,28.14 522.10,28.34 522.20,28.51 522.30,28.63 522.40,28.69 522.50,28.69 522.60,28.62 522.70,28.50 522.80,28.33 522.90,28.14 523.00,27.94 523.10,27.76 523.20,27.61 523.30,27.53 523.40,27.50 523.50,27.54 523.60,27.64 523.70,27.80 523.80,27.98 523.90,28.18 524.00,28.37 524.10,28.53 524.20,28.65 524.30,28.70 524.40,28.68 524.50,28.60 524.60,28.47 524.70,28.29 524.80,28.10 524.90,27.90 525.00,27.73 525.10,27.59 525.20,27.52 525.30,27.50 525.40,27.56 525.50,27.67 525.60,27.83 525.70,28.02 525.80,28.22 525.90,28.41 526.00,28.56 526.10,28.66 526.20,28.70 526.30,28.67 526.40,28.58 526.50,28.44 526.60,28.25 526.70,28.06 526.80,27.86 526.90,27.69 527.00,27.57 527.10,27.51 527.20,27.51 527.30,27.58 527.40,27.70 527.50,27.87 527.60,28.06 527.70,28.26 527.80,28.44 527.90,28.59 528.00,28.67 528.10,28.70 528.20,28.66 528.30,28.56 528.40,28.40 528.50,28.22 528.60,28.02 528.70,27.83 528.80,27.67 528.90,27.55 529.00,27.50 529.10,27.52 529.20,27.60 529.30,27.73 529.40,27.91 529.50,28.10 529.60,28.30 529.70,28.48 529.80,28.61 529.90,28.68 530.00,28.70 530.10,28.64 530.20,28.53 530.30,28.37 530.40,28.18 530.50,27.98 530.60,27.79 530.70,27.64 530.80,27.54 530.90,27.50 531.00,27.53 531.10,27.62 531.20,27.76 531.30,27.95 531.40,28.14 531.50,28.34 531.60,28.51 531.70,28.63 531.80,28.69 531.90,28.69 532.00,28.62 532.10,28.50 532.20,28.33 532.30,28.14 532.40,27.94 532.50,27.76 532.60,27.61 532.70,27.53 532.80,27.50 532.90,27.54 533.00,27.64 533.10,27.80 533.20,27.98 533.30,28.18 533.40,28.37 533.50,28.53 533.60,28.65 533.70,28.70 533.80,28.68 533.90,28.60 534.00,28.47 534.10,28.29 534.20,28.10 534.30,27.90 534.40,27.72 534.50,27.59 534.60,27.52 534.70,27.50 534.80,27.56 534.90,27.67 535.00,27.83 535.10,28.02 535.20,28.22 535.30,28.41 535.40,28.56 535.50,28.66 535.60,28.70 535.70,28.67 535.80,28.58 535.90,28.44 536.00,28.25 536.10,28.06 536.20,27.86 536.30,27.69 536.40,27.57 536.50,27.51 536.60,27.51 536.70,27.58 536.80,27.70 536.90,27.87 537.00,28.06 537.10,28.26 537.20,28.44 537.30,28.59 537.40,28.67 537.50,28.70 537.60,28.66 537.70,28.56 537.80,28.40 537.90,28.21 538.00,28.02 538.10,27.83 538.20,27.67 538.30,27.55 538.40,27.50 538.50,27.52 538.60,27.60 538.70,27.73 538.80,27.91 538.90,28.10 539.00,28.30 539.10,28.48 539.20,28.61 539.30,28.68 539.40,28.70 539.50,28.64 539.60,28.53 539.70,28.37 539.80,28.18 539.90,27.98 540.00,27.79 540.10,27.64 540.20,27.54 540.30,27.50 540.40,27.53 540.50,27.62 540.60,27.76 540.70,27.95 540.80,28.14 540.90,28.34 541.00,28.51 541.10,28.63 541.20,28.69 541.30,28.69 541.40,28.62 541.50,28.50 541.60,28.33 541.70,28.14 541.80,27.94 541.90,27.76 542.00,27.61 542.10,27.53 542.20,27.50 542.30,27.54 542.40,27.65 542.50,27.80 542.60,27.99 542.70,28.18 542.80,28.38 542.90,28.53 543.00,28.65 543.10,28.70 543.20,28.68 543.30,28.60 543.40,28.47 543.50,28.29 543.60,28.09 543.70,27.90 543.80,27.72 543.90,27.59 544.00,27.52 544.10,27.50 544.20,27.56 544.30,27.67 544.40,27.83 544.50,28.03 544.60,28.22 544.70,28.41 544.80,28.56 544.90,28.66 545.00,28.70 545.10,28.67 545.20,28.58 545.30,28.44 545.40,28.25 545.50,28.05 545.60,27.86 545.70,27.69 545.80,27.57 545.90,27.51 546.00,27.51 546.10,27.58 546.20,27.70 546.30,27.87 546.40,28.07 546.50,28.26 546.60,28.44 546.70,28.59 546.80,28.67 546.90,28.70 547.00,28.66 547.10,28.55 547.20,28.40 547.30,28.21 547.40,28.01 547.50,27.82 547.60,27.67 547.70,27.55 547.80,27.50 547.90,27.52 548.00,27.60 548.10,27.73 548.20,27.91 548.30,28.11 548.40,28.30 548.50,28.48 548.60,28.61 548.70,28.68 548.80,28.70 548.90,28.64 549.00,28.53 549.10,28.37 549.20,28.17 549.30,27.98 549.40,27.79 549.50,27.64 549.60,27.54 549.70,27.50 549.80,27.53 549.90,27.62 550.00,27.76 550.10,27.95 550.20,28.15 550.30,28.34 550.40,28.51 550.50,28.63 550.60,28.69 550.70,28.69 550.80,28.62 550.90,28.50 551.00,28.33 551.10,28.13 551.20,27.94 551.30,27.76 551.40,27.61 551.50,27.53 551.60,27.50 551.70,27.54 551.80,27.65 551.90,27.80 552.00,27.99 552.10,28.19 552.20,28.38 552.30,28.54 552.40,28.65 552.50,28.70 552.60,28.68 552.70,28.60 552.80,28.47 552.90,28.29 553.00,28.09 553.10,27.90 553.20,27.72 553.30,27.59 553.40,27.52 553.50,27.50 553.60,27.56 553.70,27.67 553.80,27.83 553.90,28.03 554.00,28.23 554.10,28.41 554.20,28.56 554.30,28.66 554.40,28.70 554.50,28.67 554.60,28.58 554.70,28.43 554.80,28.25 554.90,28.05 555.00,27.86 555.10,27.69 555.20,27.57 555.30,27.51 555.40,27.51 555.50,27.58 555.60,27.70 555.70,27.87 555.80,28.07 555.90,28.26 556.00,28.44 556.10,28.59 556.20,28.67 556.30,28.70 556.40,28.66 556.50,28.55 556.60,28.40 556.70,28.21 556.80,28.01 556.90,27.82 557.00,27.66 557.10,27.55 557.20,27.50 557.30,27.52 557.40,27.60 557.50,27.73 557.60,27.91 557.70,28.11 557.80,28.30 557.90,28.48 558.00,28.61 558.10,28.69 558.20,28.70 558.30,28.64 558.40,28.53 558.50,28.37 558.60,28.17 558.70,27.97 558.80,27.79 558.90,27.64 559.00,27.54 559.10,27.50 559.20,27.53 559.30,27.62 559.40,27.77 559.50,27.95 559.60,28.15 559.70,28.34 559.80,28.51 559.90,28.63 560.00,28.69 560.10,28.69 560.20,28.62 560.30,28.50 560.40,28.33 560.50,28.13 560.60,27.94 560.70,27.76 560.80,27.61 560.90,27.53 561.00,27.50 561.10,27.54 561.20,27.65 561.30,27.80 561.40,27.99 561.50,28.19 561.60,28.38 561.70,28.54 561.80,28.65 561.90,28.70 562.00,28.68 562.10,28.60 562.20,28.47 562.30,28.29 562.40,28.09 562.50,27.90 562.60,27.72 562.70,27.59 562.80,27.51 562.90,27.50 563.00,27.56 563.10,27.67 563.20,27.84 563.30,28.03 563.40,28.23 563.50,28.41 563.60,28.56 563.70,28.66 563.80,28.70 563.90,28.67 564.00,28.58 564.10,28.43 564.20,28.25 564.30,28.05 564.40,27.86 564.50,27.69 564.60,27.57 564.70,27.51 564.80,27.51 564.90,27.58 565.00,27.70 565.10,27.87 565.20,28.07 565.30,28.26 565.40,28.44 565.50,28.59 565.60,28.67 565.70,28.70 565.80,28.66 565.90,28.55 566.00,28.40 566.10,28.21 566.20,28.01 566.30,27.82 566.40,27.66 566.50,27.55 566.60,27.50 566.70,27.52 566.80,27.60 566.90,27.73 567.00,27.91 567.10,28.11 567.20,28.30 567.30,28.48 567.40,28.61 567.50,28.69 567.60,28.70 567.70,28.64 567.80,28.53 567.90,28.36 568.00,28.17 568.10,27.97 568.20,27.79 568.30,27.64 568.40,27.54 568.50,27.50 568.60,27.53 568.70,27.62 568.80,27.77 568.90,27.95 569.00,28.15 569.10,28.34 569.20,28.51 569.30,28.63 569.40,28.69 569.50,28.69 569.60,28.62 569.70,28.50 569.80,28.33 569.90,28.13 570.00,27.93 570.10,27.75 570.20,27.61 570.30,27.52 570.40,27.50 570.50,27.54 570.60,27.65 570.70,27.80 570.80,27.99 570.90,28.19 571.00,28.38 571.10,28.54 571.20,28.65 571.30,28.70 571.40,28.68 571.50,28.60 571.60,28.47 571.70,28.29 571.80,28.09 571.90,27.90 572.00,27.72 572.10,27.59 572.20,27.51 572.30,27.50 572.40,27.56 572.50,27.67 572.60,27.84 572.70,28.03 572.80,28.23 572.90,28.41 573.00,28.56 573.10,28.66 573.20,28.70 573.30,28.67 573.40,28.58 573.50,28.43 573.60,28.25 573.70,28.05 573.80,27.86 573.90,27.69 574.00,27.57 574.10,27.51 574.20,27.51 574.30,27.58 574.40,27.70 574.50,27.87 574.60,28.07 574.70,28.27 574.80,28.45 574.90,28.59 575.00,28.68 575.10,28.70 575.20,28.66 575.30,28.55 575.40,28.40 575.50,28.21 575.60,28.01 575.70,27.82 575.80,27.66 575.90,27.55 576.00,27.50 576.10,27.52 576.20,27.60 576.30,27.73 576.40,27.91 576.50,28.11 576.60,28.30 576.70,28.48 576.80,28.61 576.90,28.69 577.00,28.70 577.10,28.64 577.20,28.53 577.30,28.36 577.40,28.17 577.50,27.97 577.60,27.79 577.70,27.64 577.80,27.54 577.90,27.50 578.00,27.53 578.10,27.62 578.20,27.77 578.30,27.95 578.40,28.15 578.50,28.34 578.60,28.51 578.70,28.63 578.80,28.69 578.90,28.69 579.00,28.62 579.10,28.50 579.20,28.33 579.30,28.13 579.40,27.93 579.50,27.75 579.60,27.61 579.70,27.52 579.80,27.50 579.90,27.54 580.00,27.65 580.10,27.80 580.20,27.99 580.30,28.19 580.40,28.38 580.50,28.54 580.60,28.65 580.70,28.70 580.80,28.68 580.90,28.60 581.00,28.47 581.10,28.29 581.20,28.09 581.30,27.90 581.40,27.72 581.50,27.59 581.60,27.51 581.70,27.50 581.80,27.56 581.90,27.67 582.00,27.84 582.10,28.03 582.20,28.23 582.30,28.41 582.40,28.56 582.50,28.66 582.60,28.70 582.70,28.67 582.80,28.58 582.90,28.43 583.00,28.25 583.10,28.05 583.20,27.86 583.30,27.69 583.40,27.57 583.50,27.51 583.60,27.51 583.70,27.58 583.80,27.70 583.90,27.87 584.00,28.07 584.10,28.27 584.20,28.45 584.30,28.59 584.40,28.68 584.50,28.70 584.60,28.66 584.70,28.55 584.80,28.40 584.90,28.21 585.00,28.01 585.10,27.82 585.20,27.66 585.30,27.55 585.40,27.50 585.50,27.52 585.60,27.60 585.70,27.73 585.80,27.91 585.90,28.11 586.00,28.30 586.10,28.48 586.20,28.61 586.30,28.69 586.40,28.70 586.50,28.64 586.60,28.53 586.70,28.36 586.80,28.17 586.90,27.97 587.00,27.79 587.10,27.64 587.20,27.54 587.30,27.50 587.40,27.53 587.50,27.62 587.60,27.77 587.70,27.95 587.80,28.15 587.90,28.34 588.00,28.51 588.10,28.63 588.20,28.69 588.30,28.69 588.40,28.62 588.50,28.50 588.60,28.33 588.70,28.13 588.80,27.93 588.90,27.75 589.00,27.61 589.10,27.52 589.20,27.50 589.30,27.54 589.40,27.65 589.50,27.80 589.60,27.99 589.70,28.19 589.80,28.38 589.90,28.54 590.00,28.65 590.10,28.70 590.20,28.68 590.30,28.60 590.40,28.47 590.50,28.29 590.60,28.09 590.70,27.90 590.80,27.72 590.90,27.59 591.00,27.51 591.10,27.50 591.20,27.56 591.30,27.67 591.40,27.84 591.50,28.03 591.60,28.23 591.70,28.41 591.80,28.56 591.90,28.66 592.00,28.70 592.10,28.67 592.20,28.58 592.30,28.43 592.40,28.25 592.50,28.05 592.60,27.86 592.70,27.69 592.80,27.57 592.90,27.51 593.00,27.51 593.10,27.58 593.20,27.70 593.30,27.87 593.40,28.07 593.50,28.27 593.60,28.45 593.70,28.59 593.80,28.68 593.90,28.70 594.00,28.66 594.10,28.55 594.20,28.40 594.30,28.21 594.40,28.01 594.50,27.82 594.60,27.66 594.70,27.55 594.80,27.50 594.90,27.52 595.00,27.60 595.10,27.73 595.20,27.91 595.30,28.11 595.40,28.30 595.50,28.48 595.60,28.61 595.70,28.69 595.80,28.70 595.90,28.64 596.00,28.53 596.10,28.36 596.20,28.17 596.30,27.97 596.40,27.79 596.50,27.64 596.60,27.54 596.70,27.50 596.80,27.53 596.90,27.62 597.00,27.77 597.10,27.95 597.20,28.15 597.30,28.34 597.40,28.51 597.50,28.63 597.60,28.69 597.70,28.69 597.80,28.62 597.90,28.50 598.00,28.33 598.10,28.13 598.20,27.93 598.30,27.75 598.40,27.61 598.50,27.52 598.60,27.50 598.70,27.54 598.80,27.65 598.90,27.80 599.00,27.99 599.10,28.19 599.20,28.38 599.30,28.54 599.40,28.65 599.50,28.70 599.60,28.68 599.70,28.60 599.80,28.46 599.90,28.29 600.00,28.09 600.10,27.89 600.20,27.72 600.30,27.59 600.40,27.51 600.50,27.50 600.60,27.56 600.70,27.67 600.80,27.84 600.90,28.03 601.00,28.23 601.10,28.41 601.20,28.56 601.30,28.66 601.40,28.70 601.50,28.67 601.60,28.58 601.70,28.43 601.80,28.25 601.90,28.05 602.00,27.86 602.10,27.69 602.20,27.57 602.30,27.51 602.40,27.51 602.50,27.58 602.60,27.70 602.70,27.87 602.80,28.07 602.90,28.27 603.00,28.45 603.10,28.59 603.20,28.68 603.30,28.70 603.40,28.66 603.50,28.55 603.60,28.40 603.70,28.21 603.80,28.01 603.90,27.82 604.00,27.66 604.10,27.55 604.20,27.50 604.30,27.52 604.40,27.60 604.50,27.74 604.60,27.91 604.70,28.11 604.80,28.31 604.90,28.48 605.00,28.61 605.10,28.69 605.20,28.70 605.30,28.64 605.40,28.52 605.50,28.36 605.60,28.17 605.70,27.97 605.80,27.79 605.90,27.64 606.00,27.54 606.10,27.50 606.20,27.53 606.30,27.62 606.40,27.77 606.50,27.95 606.60,28.15 606.70,28.34 606.80,28.51 606.90,28.63 607.00,28.69 607.10,28.69 607.20,28.62 607.30,28.50 607.40,28.33 607.50,28.13 607.60,27.93 607.70,27.75 607.80,27.61 607.90,27.52 608.00,27.50 608.10,27.54 608.20,27.65 608.30,27.80 608.40,27.99 608.50,28.19 608.60,28.38 608.70,28.54 608.80,28.65 608.90,28.70 609.00,28.68 609.10,28.60 609.20,28.46 609.30,28.29 609.40,28.09 609.50,27.89 609.60,27.72 609.70,27.59 609.80,27.51 609.90,27.50 610.00,27.56 610.10,27.68 610.20,27.84 610.30,28.03 610.40,28.23 610.50,28.41 610.60,28.56 610.70,28.66 610.80,28.70 610.90,28.67 611.00,28.58 611.10,28.43 611.20,28.25 611.30,28.05 611.40,27.86 611.50,27.69 611.60,27.57 611.70,27.51 611.80,27.51 611.90,27.58 612.00,27.70 612.10,27.87 612.20,28.07 612.30,28.27 612.40,28.45 612.50,28.59 612.60,28.68 612.70,28.70 612.80,28.66 612.90,28.55 613.00,28.40 613.10,28.21 613.20,28.01 613.30,27.82 613.40,27.66 613.50,27.55 613.60,27.50 613.70,27.52 613.80,27.60 613.90,27.74 614.00,27.91 614.10,28.11 614.20,28.31 614.30,28.48 614.40,28.61 614.50,28.69 614.60,28.70 614.70,28.64 614.80,28.52 614.90,28.36 615.00,28.17 615.10,27.97 615.20,27.79 615.30,27.64 615.40,27.54 615.50,27.50 615.60,27.53 615.70,27.62 615.80,27.77 615.90,27.95 616.00,28.15 616.10,28.34 616.20,28.51 616.30,28.63 616.40,28.69 616.50,28.69 616.60,28.62 616.70,28.50 616.80,28.33 616.90,28.13 617.00,27.93 617.10,27.75 617.20,27.61 617.30,27.52 617.40,27.50 617.50,27.54 617.60,27.65 617.70,27.80 617.80,27.99 617.90,28.19 618.00,28.38 618.10,28.54 618.20,28.65 618.30,28.70 618.40,28.68 618.50,28.60 618.60,28.46 618.70,28.29 618.80,28.09 618.90,27.89 619.00,27.72 619.10,27.59 619.20,27.51 619.30,27.50 619.40,27.56 619.50,27.68 619.60,27.84 619.70,28.03 619.80,28.23 619.90,28.41 620.00,28.56 620.10,28.66 620.20,28.70 620.30,28.67 620.40,28.58 620.50,28.43 620.60,28.25 620.70,28.05 620.80,27.86 620.90,27.69 621.00,27.57 621.10,27.51 621.20,27.51 621.30,27.58 621.40,27.71 621.50,27.88 621.60,28.07 621.70,28.27 621.80,28.45 621.90,28.59 622.00,28.68 622.10,28.70 622.20,28.66 622.30,28.55 622.40,28.40 622.50,28.21 622.60,28.01 622.70,27.82 622.80,27.66 622.90,27.55 623.00,27.50 623.10,27.52 623.20,27.60 623.30,27.74 623.40,27.91 623.50,28.11 623.60,28.31 623.70,28.48 623.80,28.61 623.90,28.69 624.00,28.70 624.10,28.64 624.20,28.52 624.30,28.36 624.40,28.17 624.50,27.97 624.60,27.79 624.70,27.64 624.80,27.54 624.90,27.50 625.00,27.53 625.10,27.62 625.20,27.77 625.30,27.95 625.40,28.15 625.50,28.34 625.60,28.51 625.70,28.63 625.80,28.69 625.90,28.69 626.00,28.62 626.10,28.49 626.20,28.32 626.30,28.13 626.40,27.93 626.50,27.75 626.60,27.61 626.70,27.52 626.80,27.50 626.90,27.54 627.00,27.65 627.10,27.80 627.20,27.99 627.30,28.19 627.40,28.38 627.50,28.54 627.60,28.65 627.70,28.70 627.80,28.68 627.90,28.60 628.00,28.46 628.10,28.29 628.20,28.09 628.30,27.89 628.40,27.72 628.50,27.59 628.60,27.51 628.70,27.50 628.80,27.56 628.90,27.68 629.00,27.84 629.10,28.03 629.20,28.23 629.30,28.41 629.40,28.57 629.50,28.66 629.60,28.70 629.70,28.67 629.80,28.58 629.90,28.43 630.00,28.25 630.10,28.05 630.20,27.86 630.30,27.69 630.40,27.57 630.50,27.51 630.60,27.51 630.70,27.58 630.80,27.71 630.90,27.88 631.00,28.07 631.10,28.27 631.20,28.45 631.30,28.59 631.40,28.68 631.50,28.70 631.60,28.66 631.70,28.55 631.80,28.40 631.90,28.21 632.00,28.01 632.10,27.82 632.20,27.66 632.30,27.55 632.40,27.50 632.50,27.52 632.60,27.60 632.70,27.74 632.80,27.91 632.90,28.11 633.00,28.31 633.10,28.48 633.20,28.61 633.30,28.69 633.40,28.70 633.50,28.64 633.60,28.52 633.70,28.36 633.80,28.17 633.90,27.97 634.00,27.78 634.10,27.63 634.20,27.54 634.30,27.50 634.40,27.53 634.50,27.62 634.60,27.77 634.70,27.95 634.80,28.15 634.90,28.34 635.00,28.51 635.10,28.63 635.20,28.69 635.30,28.69 635.40,28.62 635.50,28.49 635.60,28.32 635.70,28.13 635.80,27.93 635.90,27.75 636.00,27.61 636.10,27.52 636.20,27.50 636.30,27.54 636.40,27.65 636.50,27.80 636.60,27.99 636.70,28.19 636.80,28.38 636.90,28.54 637.00,28.65 637.10,28.70 637.20,28.68 637.30,28.60 637.40,28.46 637.50,28.29 637.60,28.09 637.70,27.89 637.80,27.72 637.90,27.59 638.00,27.51 638.10,27.50 638.20,27.56 638.30,27.68 638.40,27.84 638.50,28.03 638.60,28.23 638.70,28.42 638.80,28.57 638.90,28.66 639.00,28.70 639.10,28.67 639.20,28.58 639.30,28.43 639.40,28.25 639.50,28.05 639.60,27.86 639.70,27.69 639.80,27.57 639.90,27.51 640.00,27.51 640.10,27.58 640.20,27.71 640.30,27.88 640.40,28.07 640.50,28.27 640.60,28.45 640.70,28.59 640.80,28.68 640.90,28.70 641.00,28.66 641.10,28.55 641.20,28.40 641.30,28.21 641.40,28.01 641.50,27.82 641.60,27.66 641.70,27.55 641.80,27.50 641.90,27.52 642.00,27.60 642.10,27.74 642.20,27.91 642.30,28.11 642.40,28.31 642.50,28.48 642.60,28.61 642.70,28.69 642.80,28.70 642.90,28.64 643.00,28.52 643.10,28.36 643.20,28.17 643.30,27.97 643.40,27.78 643.50,27.63 643.60,27.54 643.70,27.50 643.80,27.53 643.90,27.62 644.00,27.77 644.10,27.95 644.20,28.15 644.30,28.34 644.40,28.51 644.50,28.63 644.60,28.69 644.70,28.69 644.80,28.62 644.90,28.49 645.00,28.32 645.10,28.13 645.20,27.93 645.30,27.75 645.40,27.61 645.50,27.52 645.60,27.50 645.70,27.54 645.80,27.65 645.90,27.80 646.00,27.99 646.10,28.19 646.20,28.38 646.30,28.54 646.40,28.65 646.50,28.70 646.60,28.68 646.70,28.60 646.80,28.46 646.90,28.29 647.00,28.09 647.10,27.89 647.20,27.72 647.30,27.59 647.40,27.51 647.50,27.50 647.60,27.56 647.70,27.68 647.80,27.84 647.90,28.03 648.00,28.23 648.10,28.42 648.20,28.57 648.30,28.66 648.40,28.70 648.50,28.67 648.60,28.58 648.70,28.43 648.80,28.25 648.90,28.05 649.00,27.85 649.10,27.69 649.20,27.57 649.30,27.51 649.40,27.51 649.50,27.58 649.60,27.71 649.70,27.88 649.80,28.07 649.90,28.27 650.00,28.45 650.10,28.59 650.20,28.68 650.30,28.70 650.40,28.66 650.50,28.55 650.60,28.40 650.70,28.21 650.80,28.01 650.90,27.82 651.00,27.66 651.10,27.55 651.20,27.50 651.30,27.52 651.40,27.60 651.50,27.74 651.60,27.91 651.70,28.11 651.80,28.31 651.90,28.48 652.00,28.61 652.10,28.69 652.20,28.70 652.30,28.64 652.40,28.52 652.50,28.36 652.60,28.17 652.70,27.97 652.80,27.78 652.90,27.63 653.00,27.54 653.10,27.50 653.20,27.53 653.30,27.62 653.40,27.77 653.50,27.95 653.60,28.15 653.70,28.35 653.80,28.51 653.90,28.63 654.00,28.69 654.10,28.69 654.20,28.62 654.30,28.49 654.40,28.32 654.50,28.13 654.60,27.93 654.70,27.75 654.80,27.61 654.90,27.52 655.00,27.50 655.10,27.54 655.20,27.65 655.30,27.80 655.40,27.99 655.50,28.19 655.60,28.38 655.70,28.54 655.80,28.65 655.90,28.70 656.00,28.68 656.10,28.60 656.20,28.46 656.30,28.28 656.40,28.09 656.50,27.89 656.60,27.72 656.70,27.59 656.80,27.51 656.90,27.50 657.00,27.56 657.10,27.68 657.20,27.84 657.30,28.03 657.40,28.23 657.50,28.42 657.60,28.57 657.70,28.66 657.80,28.70 657.90,28.67 658.00,28.58 658.10,28.43 658.20,28.25 658.30,28.05 658.40,27.85 658.50,27.69 658.60,27.57 658.70,27.51 658.80,27.51 658.90,27.58 659.00,27.71 659.10,27.88 659.20,28.07 659.30,28.27 659.40,28.45 659.50,28.59 659.60,28.68 659.70,28.70 659.80,28.66 659.90,28.55 660.00,28.39 660.10,28.21 660.20,28.01 660.30,27.82 660.40,27.66 660.50,27.55 660.60,27.50 660.70,27.52 660.80,27.60 660.90,27.74 661.00,27.92 661.10,28.11 661.20,28.31 661.30,28.48 661.40,28.61 661.50,28.69 661.60,28.70 661.70,28.64 661.80,28.52 661.90,28.36 662.00,28.17 662.10,27.97 662.20,27.78 662.30,27.63 662.40,27.54 662.50,27.50 662.60,27.53 662.70,27.62 662.80,27.77 662.90,27.95 663.00,28.15 663.10,28.35 663.20,28.51 663.30,28.63 663.40,28.69 663.50,28.69 663.60,28.62 663.70,28.49 663.80,28.32 663.90,28.13 664.00,27.93 664.10,27.75 664.20,27.61 664.30,27.52 664.40,27.50 664.50,27.54 664.60,27.65 664.70,27.81 664.80,27.99 664.90,28.19 665.00,28.38 665.10,28.54 665.20,28.65 665.30,28.70 665.40,28.68 665.50,28.60 665.60,28.46 665.70,28.28 665.80,28.09 665.90,27.89 666.00,27.72 666.10,27.59 666.20,27.51 666.30,27.50 666.40,27.56 666.50,27.68 666.60,27.84 666.70,28.03 666.80,28.23 666.90,28.42 667.00,28.57 667.10,28.66 667.20,28.70 667.30,28.67 667.40,28.58 667.50,28.43 667.60,28.25 667.70,28.05 667.80,27.85 667.90,27.69 668.00,27.57 668.10,27.51 668.20,27.51 668.30,27.58 668.40,27.71 668.50,27.88 668.60,28.07 668.70,28.27 668.80,28.45 668.90,28.59 669.00,28.68 669.10,28.70 669.20,28.65 669.30,28.55 669.40,28.39 669.50,28.21 669.60,28.01 669.70,27.82 669.80,27.66 669.90,27.55 670.00,27.50 670.10,27.52 670.20,27.60 670.30,27.74 670.40,27.92 670.50,28.11 670.60,28.31 670.70,28.48 670.80,28.61 670.90,28.69 671.00,28.70 671.10,28.64 671.20,28.52 671.30,28.36 671.40,28.17 671.50,27.97 671.60,27.78 671.70,27.63 671.80,27.54 671.90,27.50 672.00,27.53 672.10,27.63 672.20,27.77 672.30,27.95 672.40,28.15 672.50,28.35 672.60,28.51 672.70,28.63 672.80,28.69 672.90,28.69 673.00,28.62 673.10,28.49 673.20,28.32 673.30,28.13 673.40,27.93 673.50,27.75 673.60,27.61 673.70,27.52 673.80,27.50 673.90,27.55 674.00,27.65 674.10,27.81 674.20,27.99 674.30,28.19 674.40,28.38 674.50,28.54 674.60,28.65 674.70,28.70 674.80,28.68 674.90,28.60 675.00,28.46 675.10,28.28 675.20,28.09 675.30,27.89 675.40,27.72 675.50,27.59 675.60,27.51 675.70,27.50 675.80,27.56 675.90,27.68 676.00,27.84 676.10,28.03 676.20,28.23 676.30,28.42 676.40,28.57 676.50,28.66 676.60,28.70 676.70,28.67 676.80,28.57"/>
<polyline class="cv" stroke="#ff0000" points="65.50,385.00 65.75,384.78 66.00,384.59 66.25,384.45 66.50,384.35 66.75,384.30 67.00,384.32 67.25,384.40 67.50,384.52 67.75,384.69 68.00,384.89 68.25,385.12 68.50,385.36 68.75,385.60 69.00,385.84 69.25,386.08 69.50,386.29 69.75,386.47 70.00,386.63 70.25,386.80 70.50,386.98 70.75,387.16 71.00,387.35 71.25,387.52 71.50,387.69 71.75,387.85 72.00,387.99 72.25,388.11 72.50,388.20 72.75,388.26 73.00,388.30 73.25,388.28 73.50,388.19 73.75,388.02 74.00,387.79 74.25,387.50 74.50,387.18 74.75,386.82 75.00,386.46 75.25,386.08 75.50,385.71 75.75,385.37 76.00,385.00 76.25,384.55 76.50,384.03 76.75,383.50 77.00,382.99 77.25,382.52 77.50,382.14 77.75,381.89 78.00,381.80 78.25,381.82 78.50,381.86 78.75,381.93 79.00,382.03 79.25,382.13 79.50,382.25 79.75,382.38 80.00,382.50 80.25,382.63 80.50,382.79 80.75,383.00 81.00,383.24 81.25,383.48 81.50,383.72 81.75,383.93 82.00,384.09 82.25,384.18 82.50,384.19 82.75,384.08 83.00,383.86 83.25,383.57 83.50,383.22 83.75,382.85 84.00,382.48 84.25,382.13 84.50,381.84 84.75,381.62 85.00,381.51 85.25,381.51 85.50,381.58 85.75,381.69 86.00,381.83 86.25,381.98 86.50,382.13 86.75,382.26 87.00,382.35 87.25,382.40 87.50,382.37 87.75,382.28 88.00,382.14 88.25,381.96 88.50,381.78 88.75,381.60 89.00,381.44 89.25,381.34 89.50,381.30 89.75,381.33 90.00,381.39 90.25,381.49 90.50,381.60 90.75,381.72 91.00,381.83 91.25,381.92 91.50,381.98 91.75,382.00 92.00,381.98 92.25,381.94 92.50,381.87 92.75,381.79 93.00,381.69 93.25,381.58 93.50,381.46 93.75,381.33 94.00,381.20 94.25,381.08 94.50,380.95 94.75,380.79 95.00,380.59 95.25,380.36 95.50,380.12 95.75,379.86 96.00,379.59 96.25,379.32 96.50,379.06 96.75,378.81 97.00,378.58 97.25,378.38 97.50,378.22 97.75,378.09 98.00,378.02 98.25,378.00 98.50,378.04 98.75,378.12 99.00,378.24 99.25,378.37 99.50,378.51 99.75,378.63 100.00,378.73 100.25,378.79 100.50,378.79 100.75,378.66 101.00,378.42 101.25,378.09 101.50,377.70 101.75,377.27 102.00,376.84 102.25,376.42 102.50,376.05 102.75,375.75 103.00,375.55 103.25,375.45 103.50,375.38 103.75,375.32 104.00,375.28 104.25,375.24 104.50,375.20 104.75,375.17 105.00,375.13 105.25,375.08 105.50,375.03 105.75,374.95 106.00,374.86 106.25,374.69 106.50,374.45 106.75,374.16 107.00,373.83 107.25,373.47 107.50,373.09 107.75,372.71 108.00,372.34 108.25,371.98 108.50,371.58 108.75,371.15 109.00,370.70 109.25,370.24 109.50,369.77 109.75,369.32 110.00,368.89 110.25,368.50 110.50,368.14 110.75,367.85 111.00,367.60 111.25,367.34 111.50,367.09 111.75,366.86 112.00,366.65 112.25,366.46 112.50,366.32 112.75,366.23 113.00,366.20 113.25,366.24 113.50,366.34 113.75,366.50 114.00,366.70 114.25,366.91 114.50,367.13 114.75,367.35 115.00,367.53 115.25,367.68 115.50,367.77 115.75,367.80 116.00,367.76 116.25,367.69 116.50,367.59 116.75,367.47 117.00,367.36 117.25,367.25 117.50,367.16 117.75,367.11 118.00,367.12 118.25,367.28 118.50,367.57 118.75,367.92 119.00,368.25 119.25,368.50 119.50,368.60 119.75,368.55 120.00,368.40 120.25,368.20 120.50,367.95 120.75,367.70 121.00,367.46 121.25,367.26 121.50,367.13 121.75,367.10 122.00,367.14 122.25,367.21 122.50,367.31 122.75,367.43 123.00,367.54 123.25,367.65 123.50,367.74 123.75,367.79 124.00,367.79 124.25,367.69 124.50,367.51 124.75,367.27 125.00,367.00 125.25,366.73 125.50,366.49 125.75,366.31 126.00,366.21 126.25,366.22 126.50,366.34 126.75,366.55 127.00,366.82 127.25,367.14 127.50,367.47 127.75,367.79 128.00,368.09 128.25,368.34 128.50,368.52 128.75,368.60 129.00,368.57 129.25,368.45 129.50,368.26 129.75,368.02 130.00,367.73 130.25,367.42 130.50,367.09 130.75,366.77 131.00,366.48 131.25,366.21 131.50,366.00 131.75,365.82 132.00,365.65 132.25,365.49 132.50,365.34 132.75,365.19 133.00,365.04 133.25,364.90 133.50,364.77 133.75,364.64 134.00,364.51 134.25,364.38 134.50,364.25 134.75,364.13 135.00,363.99 135.25,363.85 135.50,363.70 135.75,363.55 136.00,363.41 136.25,363.28 136.50,363.19 136.75,363.12 137.00,363.10 137.25,363.12 137.50,363.17 137.75,363.23 138.00,363.32 138.25,363.40 138.50,363.48 138.75,363.55 139.00,363.59 139.25,363.60 139.50,363.53 139.75,363.40 140.00,363.20 140.25,362.96 140.50,362.70 140.75,362.44 141.00,362.19 141.25,361.98 141.50,361.81 141.75,361.72 142.00,361.70 142.25,361.75 142.50,361.83 142.75,361.94 143.00,362.08 143.25,362.22 143.50,362.37 143.75,362.51 144.00,362.63 144.25,362.72 144.50,362.78 144.75,362.80 145.00,362.68 145.25,362.43 145.50,362.05 145.75,361.58 146.00,361.04 146.25,360.45 146.50,359.83 146.75,359.21 147.00,358.62 147.25,358.06 147.50,357.58 147.75,357.18 148.00,356.89 148.25,356.62 148.50,356.35 148.75,356.09 149.00,355.83 149.25,355.58 149.50,355.35 149.75,355.14 150.00,354.95 150.25,354.79 150.50,354.66 150.75,354.57 151.00,354.51 151.25,354.50 151.50,354.51 151.75,354.52 152.00,354.55 152.25,354.58 152.50,354.61 152.75,354.66 153.00,354.70 153.25,354.75 153.50,354.81 153.75,354.87 154.00,354.93 154.25,355.03 154.50,355.18 154.75,355.35 155.00,355.54 155.25,355.74 155.50,355.94 155.75,356.12 156.00,356.28 156.25,356.40 156.50,356.48 156.75,356.49 157.00,356.32 157.25,355.94 157.50,355.40 157.75,354.75 158.00,354.03 158.25,353.29 158.50,352.59 158.75,351.95 159.00,351.44 159.25,351.10 159.50,350.96 159.75,350.87 160.00,350.78 160.25,350.71 160.50,350.64 160.75,350.59 161.00,350.54 161.25,350.52 161.50,350.50 161.75,350.52 162.00,350.62 162.25,350.79 162.50,351.02 162.75,351.28 163.00,351.56 163.25,351.83 163.50,352.08 163.75,352.28 164.00,352.43 164.25,352.50 164.50,352.46 164.75,352.31 165.00,352.05 165.25,351.71 165.50,351.29 165.75,350.82 166.00,350.29 166.25,349.73 166.50,349.15 166.75,348.56 167.00,347.98 167.25,347.42 167.50,346.90 167.75,346.40 168.00,345.84 168.25,345.24 168.50,344.60 168.75,343.94 169.00,343.28 169.25,342.63 169.50,342.00 169.75,341.41 170.00,340.87 170.25,340.40 170.50,340.01 170.75,339.72 171.00,339.53 171.25,339.37 171.50,339.22 171.75,339.07 172.00,338.94 172.25,338.82 172.50,338.72 172.75,338.64 173.00,338.57 173.25,338.52 173.50,338.50 173.75,338.54 174.00,338.79 174.25,339.19 174.50,339.70 174.75,340.26 175.00,340.81 175.25,341.28 175.50,341.63 175.75,341.79 176.00,341.77 176.25,341.68 176.50,341.54 176.75,341.36 177.00,341.18 177.25,341.00 177.50,340.84 177.75,340.74 178.00,340.70 178.25,340.77 178.50,340.96 178.75,341.25 179.00,341.60 179.25,341.99 179.50,342.39 179.75,342.78 180.00,343.12 180.25,343.39 180.50,343.55 180.75,343.60 181.00,343.53 181.25,343.37 181.50,343.13 181.75,342.83 182.00,342.46 182.25,342.04 182.50,341.58 182.75,341.09 183.00,340.58 183.25,340.05 183.50,339.52 183.75,339.00 184.00,338.50 184.25,337.95 184.50,337.30 184.75,336.59 185.00,335.82 185.25,335.04 185.50,334.26 185.75,333.51 186.00,332.81 186.25,332.21 186.50,331.70 186.75,331.34 187.00,331.01 187.25,330.70 187.50,330.42 187.75,330.17 188.00,329.97 188.25,329.85 188.50,329.80 188.75,329.87 189.00,330.05 189.25,330.31 189.50,330.63 189.75,330.97 190.00,331.30 190.25,331.60 190.50,331.84 190.75,331.98 191.00,332.00 191.25,331.98 191.50,331.95 191.75,331.90 192.00,331.84 192.25,331.77 192.50,331.68 192.75,331.59 193.00,331.48 193.25,331.37 193.50,331.25 193.75,331.13 194.00,331.00 194.25,330.87 194.50,330.72 194.75,330.53 195.00,330.30 195.25,330.05 195.50,329.78 195.75,329.48 196.00,329.16 196.25,328.82 196.50,328.47 196.75,328.11 197.00,327.75 197.25,327.37 197.50,327.00 197.75,326.57 198.00,326.04 198.25,325.44 198.50,324.79 198.75,324.10 199.00,323.42 199.25,322.76 199.50,322.14 199.75,321.58 200.00,321.12 200.25,320.77 200.50,320.56 200.75,320.50 201.00,320.61 201.25,320.84 201.50,321.16 201.75,321.53 202.00,321.90 202.25,322.24 202.50,322.51 202.75,322.67 203.00,322.70 203.25,322.70 203.50,322.70 203.75,322.70 204.00,322.70 204.25,322.70 204.50,322.70 204.75,322.72 205.00,322.84 205.25,323.04 205.50,323.32 205.75,323.64 206.00,324.00 206.25,324.37 206.50,324.74 206.75,325.09 207.00,325.40 207.25,325.65 207.50,325.82 207.75,325.90 208.00,325.80 208.25,325.43 208.50,324.85 208.75,324.13 209.00,323.31 209.25,322.48 209.50,321.69 209.75,321.01 210.00,320.50 210.25,320.09 210.50,319.68 210.75,319.27 211.00,318.87 211.25,318.50 211.50,318.15 211.75,317.85 212.00,317.59 212.25,317.39 212.50,317.26 212.75,317.20 213.00,317.21 213.25,317.24 213.50,317.29 213.75,317.35 214.00,317.44 214.25,317.53 214.50,317.63 214.75,317.73 215.00,317.85 215.25,318.04 215.50,318.31 215.75,318.63 216.00,319.00 216.25,319.39 216.50,319.80 216.75,320.20 217.00,320.58 217.25,320.92 217.50,321.21 217.75,321.43 218.00,321.56 218.25,321.59 218.50,321.38 218.75,320.90 219.00,320.21 219.25,319.37 219.50,318.44 219.75,317.46 220.00,316.50 220.25,315.60 220.50,314.84 220.75,314.25 221.00,313.90 221.25,313.69 221.50,313.50 221.75,313.32 222.00,313.16 222.25,313.02 222.50,312.91 222.75,312.84 223.00,312.80 223.25,312.81 223.50,312.89 223.75,313.03 224.00,313.22 224.25,313.44 224.50,313.69 224.75,313.95 225.00,314.21 225.25,314.45 225.50,314.71 225.75,315.02 226.00,315.38 226.25,315.77 226.50,316.16 226.75,316.55 227.00,316.92 227.25,317.24 227.50,317.50 227.75,317.69 228.00,317.79 228.25,317.74 228.50,317.43 228.75,316.89 229.00,316.17 229.25,315.33 229.50,314.42 229.75,313.49 230.00,312.61 230.25,311.83 230.50,311.19 230.75,310.76 231.00,310.49 231.25,310.25 231.50,310.02 231.75,309.83 232.00,309.69 232.25,309.61 232.50,309.64 232.75,310.01 233.00,310.70 233.25,311.59 233.50,312.60 233.75,313.61 234.00,314.50 234.25,315.19 234.50,315.56 234.75,315.60 235.00,315.57 235.25,315.53 235.50,315.47 235.75,315.38 236.00,315.28 236.25,315.17 236.50,315.04 236.75,314.89 237.00,314.73 237.25,314.55 237.50,314.37 237.75,314.17 238.00,313.96 238.25,313.74 238.50,313.49 238.75,313.04 239.00,312.41 239.25,311.62 239.50,310.74 239.75,309.80 240.00,308.85 240.25,307.95 240.50,307.13 240.75,306.44 241.00,305.94 241.25,305.66 241.50,305.47 241.75,305.29 242.00,305.14 242.25,305.02 242.50,304.94 242.75,304.90 243.00,304.92 243.25,305.00 243.50,305.13 243.75,305.30 244.00,305.48 244.25,305.68 244.50,305.87 244.75,306.04 245.00,306.17 245.25,306.27 245.50,306.30 245.75,306.21 246.00,305.94 246.25,305.54 246.50,305.01 246.75,304.39 247.00,303.70 247.25,302.97 247.50,302.22 247.75,301.48 248.00,300.77 248.25,300.12 248.50,299.46 248.75,298.68 249.00,297.85 249.25,297.07 249.50,296.45 249.75,296.07 250.00,296.00 250.25,296.04 250.50,296.11 250.75,296.20 251.00,296.33 251.25,296.47 251.50,296.63 251.75,296.80 252.00,296.98 252.25,297.16 252.50,297.33 252.75,297.50 253.00,297.66 253.25,297.80 253.50,297.92 253.75,298.01 254.00,298.07 254.25,298.10 254.50,298.03 254.75,297.78 255.00,297.37 255.25,296.82 255.50,296.16 255.75,295.43 256.00,294.64 256.25,293.84 256.50,293.04 256.75,292.27 257.00,291.56 257.25,290.95 257.50,290.45 257.75,290.10 258.00,289.92 258.25,289.93 258.50,290.09 258.75,290.37 259.00,290.76 259.25,291.24 259.50,291.77 259.75,292.35 260.00,292.95 260.25,293.55 260.50,294.13 260.75,294.66 261.00,295.14 261.25,295.53 261.50,295.81 261.75,295.97 262.00,295.98 262.25,295.78 262.50,295.38 262.75,294.81 263.00,294.11 263.25,293.31 263.50,292.44 263.75,291.53 264.00,290.62 264.25,289.73 264.50,288.90 264.75,288.15 265.00,287.53 265.25,287.06 265.50,286.77 265.75,286.70 266.00,286.77 266.25,286.93 266.50,287.17 266.75,287.47 267.00,287.81 267.25,288.20 267.50,288.60 267.75,289.02 268.00,289.42 268.25,289.81 268.50,290.17 268.75,290.48 269.00,290.73 269.25,290.90 269.50,290.99 269.75,290.96 270.00,290.72 270.25,290.28 270.50,289.70 270.75,288.98 271.00,288.17 271.25,287.30 271.50,286.40 271.75,285.50 272.00,284.63 272.25,283.82 272.50,283.10 272.75,282.52 273.00,282.08 273.25,281.84 273.50,281.81 273.75,281.97 274.00,282.27 274.25,282.69 274.50,283.20 274.75,283.77 275.00,284.38 275.25,284.99 275.50,285.58 275.75,286.12 276.00,286.57 276.25,286.93 276.50,287.14 276.75,287.20 277.00,287.05 277.25,286.73 277.50,286.26 277.75,285.69 278.00,285.03 278.25,284.34 278.50,283.64 278.75,282.97 279.00,282.36 279.25,281.84 279.50,281.46 279.75,281.24 280.00,281.21 280.25,281.36 280.50,281.65 280.75,282.06 281.00,282.58 281.25,283.16 281.50,283.80 281.75,284.48 282.00,285.16 282.25,285.83 282.50,286.46 282.75,287.03 283.00,287.53 283.25,287.92 283.50,288.18 283.75,288.30 284.00,288.23 284.25,287.95 284.50,287.50 284.75,286.92 285.00,286.24 285.25,285.51 285.50,284.75 285.75,284.00 286.00,283.31 286.25,282.70 286.50,282.23 286.75,281.91 287.00,281.80 287.25,281.88 287.50,282.10 287.75,282.44 288.00,282.88 288.25,283.38 288.50,283.92 288.75,284.47 289.00,285.02 289.25,285.53 289.50,285.98 289.75,286.34 290.00,286.59 290.25,286.70 290.50,286.62 290.75,286.34 291.00,285.88 291.25,285.27 291.50,284.57 291.75,283.79 292.00,282.99 292.25,282.19 292.50,281.44 292.75,280.77 293.00,280.22 293.25,279.82 293.50,279.62 293.75,279.62 294.00,279.71 294.25,279.87 294.50,280.09 294.75,280.36 295.00,280.65 295.25,280.95 295.50,281.25 295.75,281.54 296.00,281.81 296.25,282.03 296.50,282.19 296.75,282.28 297.00,282.27 297.25,281.99 297.50,281.44 297.75,280.68 298.00,279.76 298.25,278.73 298.50,277.65 298.75,276.57 299.00,275.54 299.25,274.62 299.50,273.86 299.75,273.31 300.00,273.03 300.25,273.02 300.50,273.13 300.75,273.33 301.00,273.59 301.25,273.92 301.50,274.29 301.75,274.70 302.00,275.12 302.25,275.54 302.50,275.95 302.75,276.33 303.00,276.68 303.25,276.97 303.50,277.20 303.75,277.35 304.00,277.40 304.25,277.27 304.50,276.89 304.75,276.33 305.00,275.61 305.25,274.79 305.50,273.91 305.75,273.01 306.00,272.14 306.25,271.33 306.50,270.64 306.75,270.11 307.00,269.79 307.25,269.70 307.50,269.81 307.75,270.03 308.00,270.35 308.25,270.74 308.50,271.17 308.75,271.61 309.00,272.04 309.25,272.42 309.50,272.72 309.75,272.93 310.00,273.00 310.25,272.85 310.50,272.42 310.75,271.78 311.00,270.96 311.25,270.01 311.50,268.98 311.75,267.93 312.00,266.89 312.25,265.93 312.50,265.07 312.75,264.39 313.00,263.92 313.25,263.71 313.50,263.74 313.75,263.88 314.00,264.11 314.25,264.40 314.50,264.74 314.75,265.10 315.00,265.46 315.25,265.80 315.50,266.09 315.75,266.32 316.00,266.46 316.25,266.49 316.50,266.28 316.75,265.79 317.00,265.10 317.25,264.26 317.50,263.33 317.75,262.36 318.00,261.42 318.25,260.56 318.50,259.83 318.75,259.30 319.00,259.03 319.25,259.03 319.50,259.20 319.75,259.49 320.00,259.88 320.25,260.32 320.50,260.80 320.75,261.28 321.00,261.72 321.25,262.11 321.50,262.40 321.75,262.57 322.00,262.56 322.25,262.13 322.50,261.31 322.75,260.21 323.00,258.95 323.25,257.62 323.50,256.33 323.75,255.19 324.00,254.31 324.25,253.79 324.50,253.72 324.75,253.91 325.00,254.29 325.25,254.80 325.50,255.41 325.75,256.08 326.00,256.76 326.25,257.42 326.50,258.01 326.75,258.50 327.00,258.84 327.25,259.00 327.50,258.85 327.75,258.27 328.00,257.35 328.25,256.19 328.50,254.87 328.75,253.50 329.00,252.17 329.25,250.97 329.50,249.99 329.75,249.34 330.00,249.10 330.25,249.18 330.50,249.42 330.75,249.76 331.00,250.20 331.25,250.69 331.50,251.20 331.75,251.71 332.00,252.18 332.25,252.59 332.50,252.89 332.75,253.07 333.00,253.06 333.25,252.64 333.50,251.86 333.75,250.79 334.00,249.55 334.25,248.23 334.50,246.94 334.75,245.75 335.00,244.79 335.25,244.14 335.50,243.90 335.75,243.97 336.00,244.15 336.25,244.42 336.50,244.76 336.75,245.13 337.00,245.50 337.25,245.85 337.50,246.15 337.75,246.37 338.00,246.49 338.25,246.38 338.50,245.72 338.75,244.61 339.00,243.18 339.25,241.58 339.50,239.95 339.75,238.44 340.00,237.18 340.25,236.32 340.50,236.00 340.75,236.07 341.00,236.26 341.25,236.54 341.50,236.89 341.75,237.27 342.00,237.66 342.25,238.02 342.50,238.34 342.75,238.57 343.00,238.69 343.25,238.51 343.50,237.48 343.75,235.88 344.00,234.07 344.25,232.40 344.50,231.24 344.75,230.90 345.00,230.92 345.25,230.96 345.50,231.02 345.75,231.09 346.00,231.15 346.25,231.22 346.50,231.27 346.75,231.29 347.00,231.17 347.25,229.93 347.50,227.92 347.75,225.82 348.00,224.19 348.25,222.51 348.50,220.83 348.75,219.46 349.00,218.68 349.25,218.62 349.50,218.71 349.75,218.88 350.00,219.10 350.25,219.34 350.50,219.60 350.75,219.85 351.00,220.08 351.25,220.26 351.50,220.37 351.75,220.35 352.00,218.98 352.25,216.50 352.50,214.00 352.75,212.56 353.00,212.44 353.25,212.38 353.50,212.34 353.75,212.32 354.00,212.30 354.25,212.28 354.50,212.26 354.75,212.22 355.00,212.16 355.25,212.06 355.50,211.22 355.75,209.70 356.00,208.00 356.25,206.60 356.50,205.64 356.75,204.69 357.00,203.89 357.25,203.39 357.50,203.30 357.75,203.30 358.00,203.30 358.25,203.30 358.50,203.30 358.75,203.30 359.00,203.30 359.25,203.30 359.50,203.30 359.75,203.09 360.00,201.98 360.25,200.35 360.50,198.67 360.75,197.38 361.00,196.25 361.25,195.31 361.50,194.88 361.75,194.66 362.00,194.51 362.25,194.41 362.50,194.32 362.75,194.22 363.00,194.08 363.25,193.87 363.50,193.46 363.75,192.13 364.00,190.29 364.25,188.63 364.50,187.72 364.75,187.05 365.00,186.48 365.25,186.05 365.50,185.82 365.75,185.81 366.00,185.87 366.25,185.96 366.50,186.07 366.75,186.18 367.00,186.26 367.25,186.30 367.50,185.75 367.75,184.04 368.00,182.09 368.25,180.83 368.50,180.00 368.75,179.31 369.00,178.88 369.25,178.74 369.50,178.67 369.75,178.63 370.00,178.60 370.25,178.57 370.50,178.51 370.75,178.42 371.00,177.91 371.25,176.55 371.50,174.98 371.75,173.82 372.00,172.93 372.25,172.14 372.50,171.55 372.75,171.23 373.00,171.02 373.25,170.88 373.50,170.77 373.75,170.64 374.00,170.45 374.25,170.17 374.50,169.32 374.75,167.48 375.00,165.50 375.25,164.23 375.50,163.48 375.75,162.88 376.00,162.37 376.25,161.86 376.50,161.30 376.75,160.68 377.00,160.05 377.25,159.42 377.50,158.78 377.75,158.13 377.80,158.00 377.89,157.70 377.98,157.41 378.07,157.11 378.16,156.81 378.26,156.52 378.36,156.23 378.46,155.94 378.58,155.65 378.69,155.37 378.82,155.08 378.94,154.80 379.07,154.52 379.20,154.24 379.33,153.96 379.46,153.68 379.58,153.40 379.69,153.12 379.80,152.83 379.89,152.54 379.98,152.25 380.05,151.95 380.11,151.65 380.16,151.35 380.21,151.04 380.25,150.74 380.29,150.43 380.33,150.12 380.37,149.82 380.42,149.52 380.48,149.22 380.56,148.93 380.66,148.65 380.78,148.37 380.91,148.10 381.05,147.83 381.21,147.57 381.37,147.32 381.54,147.06 381.72,146.81 381.89,146.56 382.06,146.32 382.22,146.07 382.37,145.81 382.51,145.55 382.63,145.29 382.74,145.03 382.83,144.75 382.90,144.48 382.97,144.19 383.01,143.90 383.05,143.61 383.08,143.32 383.11,143.03 383.14,142.73 383.16,142.44 383.20,142.14 383.25,141.86 383.30,141.57 383.37,141.29 383.46,141.02 383.57,140.75 383.69,140.49 383.83,140.24 383.98,139.98 384.14,139.74 384.31,139.49 384.48,139.24 384.66,139.00 384.83,138.75 385.00,138.49 385.15,138.24 385.30,137.97 385.43,137.70 385.54,137.43 385.63,137.14 385.71,136.85 385.78,136.55 385.82,136.25 385.86,135.93 385.89,135.62 385.91,135.30 385.94,134.98 385.96,134.65 385.99,134.33 386.04,133.99 386.09,133.66 386.17,133.33 386.26,133.00 386.36,132.68 386.49,132.36 386.63,132.05 386.79,131.74 386.96,131.44 387.13,131.15 387.31,130.87 387.49,130.60 387.66,130.34 387.83,130.08 387.98,129.83 388.11,129.58 388.23,129.32 388.33,129.06 388.42,128.80 388.48,128.54 388.53,128.27 388.57,127.99 388.60,127.72 388.63,127.45 388.65,127.17 388.67,126.90 388.71,126.64 388.75,126.38 388.81,126.13 388.88,125.88 388.97,125.65 389.08,125.42 389.21,125.21 389.35,125.00 389.51,124.80 389.68,124.61 389.85,124.42 390.03,124.23 390.21,124.04 390.38,123.85 390.54,123.66 390.68,123.46 390.81,123.25 390.93,123.03 391.02,122.80 391.10,122.57 391.16,122.33 391.20,122.07 391.24,121.82 391.26,121.56 391.28,121.29 391.30,121.03 391.33,120.77 391.37,120.51 391.42,120.26 391.49,120.01 391.57,119.77 391.67,119.54 391.80,119.32 391.94,119.11 392.09,118.90 392.26,118.70 392.44,118.50 392.62,118.30 392.80,118.11 392.97,117.91 393.13,117.71 393.28,117.50 393.42,117.29 393.53,117.06 393.62,116.83 393.70,116.60 393.76,116.35 393.80,116.10 393.83,115.84 393.85,115.58 393.87,115.32 393.89,115.06 393.92,114.81 393.96,114.56 394.01,114.32 394.08,114.08 394.17,113.86 394.28,113.64 394.41,113.44 394.56,113.24 394.72,113.05 394.89,112.87 395.07,112.70 395.25,112.52 395.43,112.35 395.60,112.18 395.75,112.00 395.90,111.82 396.02,111.62 396.12,111.43 396.20,111.22 396.27,111.00 396.32,110.78 396.35,110.55 396.38,110.31 396.40,110.08 396.42,109.84 396.44,109.61 396.48,109.39 396.53,109.17 396.60,108.96 396.68,108.76 396.79,108.57 396.91,108.39 397.06,108.23 397.22,108.07 397.39,107.91 397.56,107.76 397.74,107.62 397.92,107.47 398.09,107.31 398.25,107.15 398.39,106.98 398.52,106.79 398.62,106.60 398.70,106.40 398.77,106.18 398.81,105.96 398.84,105.72 398.87,105.49 398.89,105.24 398.91,105.00 398.93,104.76 398.97,104.53 399.02,104.30 399.09,104.07 399.17,103.86 399.28,103.65 399.42,103.45 399.57,103.26 399.73,103.07 399.91,102.89 400.09,102.70 400.28,102.52 400.45,102.33 400.62,102.13 400.78,101.92 400.91,101.71 401.03,101.48 401.12,101.25 401.20,101.00 401.25,100.75 401.28,100.49 401.31,100.22 401.32,99.95 401.34,99.67 401.35,99.40 401.38,99.14 401.43,98.87 401.49,98.62 401.57,98.37 401.67,98.14 401.80,97.91 401.95,97.69 402.11,97.48 402.29,97.28 402.47,97.08 402.66,96.88 402.84,96.68 403.02,96.48 403.17,96.27 403.31,96.05 403.43,95.83 403.52,95.60 403.60,95.36 403.65,95.11 403.68,94.85 403.70,94.59 403.72,94.32 403.73,94.05 403.75,93.78 403.78,93.52 403.82,93.26 403.88,93.01 403.97,92.77 404.08,92.53 404.21,92.31 404.36,92.10 404.53,91.89 404.71,91.69 404.90,91.49 405.09,91.29 405.27,91.09 405.44,90.89 405.59,90.68 405.72,90.46 405.83,90.24 405.91,90.00 405.98,89.76 406.02,89.51 406.05,89.25 406.06,88.99 406.07,88.73 406.09,88.47 406.11,88.22 406.15,87.97 406.20,87.74 406.28,87.52 406.38,87.31 406.50,87.12 406.65,86.94 406.81,86.77 406.99,86.62 407.17,86.47 407.36,86.33 407.54,86.20 407.71,86.05 407.87,85.91 408.00,85.75 408.11,85.59 408.20,85.41 408.27,85.22 408.31,85.02 408.35,84.82 408.37,84.60 408.38,84.39 408.40,84.17 408.43,83.97 408.47,83.77 408.52,83.58 408.60,83.41 408.70,83.25 408.82,83.11 408.97,82.98 409.13,82.87 409.30,82.77 409.48,82.67 409.66,82.57 409.84,82.48 410.01,82.38 410.16,82.27 410.29,82.14 410.40,82.00 410.49,81.85 410.56,81.68 410.60,81.50 410.63,81.31 410.65,81.10 410.67,80.90 410.68,80.70 410.71,80.50 410.74,80.31 410.80,80.14 410.88,79.98 410.99,79.84 411.12,79.71 411.27,79.60 411.44,79.51 411.62,79.43 411.81,79.35 412.00,79.27 412.18,79.19 412.35,79.10 412.50,79.00 412.62,78.89 412.73,78.75 412.80,78.60 412.86,78.43 412.89,78.25 412.91,78.05 412.92,77.85 412.92,77.65 412.94,77.45 412.96,77.26 413.00,77.08 413.07,76.92 413.16,76.78 413.28,76.66 413.42,76.56 413.59,76.48 413.77,76.41 413.96,76.35 414.16,76.29 414.35,76.23 414.53,76.16 414.70,76.08 414.84,75.98 414.95,75.86 415.04,75.71 415.10,75.55 415.13,75.37 415.15,75.18 415.15,74.97 415.15,74.76 415.15,74.56 415.17,74.36 415.20,74.17 415.25,74.01 415.33,73.86 415.44,73.73 415.58,73.63 415.75,73.54 415.93,73.47 416.13,73.41 416.34,73.35 416.54,73.29 416.74,73.22 416.91,73.14 417.06,73.04 417.18,72.91 417.27,72.77 417.33,72.60 417.37,72.41 417.38,72.21 417.37,72.00 417.36,71.78 417.35,71.56 417.35,71.35 417.38,71.16 417.42,70.98 417.50,70.83 417.61,70.69 417.75,70.59 417.92,70.50 418.12,70.43 418.33,70.37 418.54,70.32 418.75,70.26 418.96,70.20 419.14,70.12 419.29,70.02 419.41,69.90 419.50,69.76 419.55,69.59 419.58,69.40 419.58,69.19 419.57,68.98 419.55,68.75 419.53,68.53 419.53,68.32 419.55,68.13 419.60,67.96 419.68,67.81 419.80,67.69 419.95,67.59 420.13,67.52 420.33,67.47 420.54,67.44 420.77,67.40 420.98,67.37 421.18,67.32 421.36,67.26 421.51,67.18 421.62,67.07 421.70,66.93 421.74,66.76 421.76,66.57 421.75,66.37 421.74,66.15 421.71,65.93 421.70,65.71 421.70,65.51 421.73,65.33 421.79,65.18 421.88,65.05 422.01,64.96 422.17,64.91 422.36,64.87 422.57,64.86 422.79,64.86 423.01,64.86 423.22,64.86 423.41,64.83 423.58,64.79 423.71,64.71 423.81,64.61 423.88,64.47 423.91,64.30 423.91,64.11 423.90,63.89 423.88,63.67 423.86,63.46 423.85,63.25 423.87,63.06 423.91,62.90 423.98,62.77 424.09,62.67 424.24,62.61 424.41,62.59 424.62,62.58 424.83,62.60 425.05,62.62 425.27,62.64 425.48,62.64 425.66,62.62 425.80,62.57 425.92,62.49 426.00,62.37 426.04,62.22 426.06,62.03 426.05,61.83 426.03,61.61 426.01,61.38 425.99,61.17 426.00,60.97 426.02,60.80 426.09,60.66 426.18,60.56 426.32,60.50 426.49,60.48 426.68,60.48 426.89,60.51 427.11,60.55 427.34,60.59 427.55,60.61 427.73,60.62 427.89,60.59 428.02,60.53 428.11,60.43 428.16,60.28 428.18,60.11 428.18,59.91 428.16,59.69 428.14,59.46 428.12,59.24 428.12,59.03 428.14,58.86 428.19,58.71 428.28,58.61 428.41,58.55 428.57,58.53 428.76,58.55 428.97,58.58 429.19,58.64 429.41,58.69 429.62,58.74 429.82,58.76 429.98,58.75 430.11,58.71 430.21,58.62 430.27,58.49 430.29,58.32 430.29,58.12 430.28,57.89 430.25,57.66 430.24,57.44 430.23,57.23 430.25,57.05 430.30,56.90 430.39,56.80 430.51,56.75 430.67,56.73 430.85,56.76 431.06,56.81 431.28,56.88 431.50,56.95 431.72,57.01 431.91,57.05 432.07,57.05 432.21,57.01 432.30,56.93 432.36,56.81 432.39,56.64 432.39,56.43 432.38,56.21 432.36,55.98 432.34,55.75 432.34,55.53 432.36,55.35 432.41,55.21 432.49,55.11 432.61,55.06 432.77,55.06 432.96,55.10 433.17,55.16 433.38,55.24 433.61,55.33 433.82,55.40 434.01,55.45 434.17,55.46 434.30,55.43 434.40,55.35 434.46,55.22 434.48,55.05 434.48,54.85 434.47,54.62 434.45,54.38 434.43,54.14 434.43,53.93 434.46,53.75 434.51,53.62 434.60,53.53 434.73,53.49 434.89,53.50 435.07,53.55 435.28,53.64 435.50,53.73 435.72,53.83 435.93,53.92 436.11,53.97 436.27,53.99 436.40,53.95 436.48,53.87 436.54,53.74 436.56,53.56 436.56,53.34 436.55,53.11 436.53,52.87 436.52,52.63 436.52,52.42 436.55,52.25 436.61,52.13 436.71,52.05 436.84,52.03 437.01,52.06 437.20,52.13 437.41,52.23 437.63,52.35 437.84,52.46 438.04,52.55 438.22,52.60 438.37,52.62 438.49,52.58 438.57,52.49 438.61,52.34 438.63,52.15 438.63,51.93 438.62,51.69 438.60,51.44 438.59,51.21 438.61,51.01 438.65,50.85 438.72,50.74 438.83,50.69 438.97,50.69 439.14,50.74 439.34,50.84 439.55,50.95 439.76,51.08 439.97,51.20 440.16,51.29 440.33,51.35 440.47,51.35 440.57,51.30 440.64,51.19 440.68,51.03 440.69,50.83 440.69,50.59 440.68,50.34 440.67,50.10 440.67,49.87 440.69,49.68 440.74,49.54 440.83,49.46 440.95,49.43 441.10,49.46 441.28,49.54 441.48,49.65 441.69,49.78 441.90,49.92 442.10,50.04 442.29,50.13 442.44,50.17 442.57,50.16 442.66,50.09 442.71,49.95 442.74,49.77 442.75,49.55 442.74,49.30 442.73,49.05 442.73,48.81 442.74,48.59 442.78,48.42 442.84,48.31 442.94,48.25 443.08,48.26 443.24,48.32 443.43,48.42 443.63,48.56 443.84,48.70 444.05,48.84 444.24,48.96 444.41,49.04 444.54,49.06 444.65,49.02 444.73,48.93 444.77,48.77 444.79,48.57 444.79,48.33 444.79,48.07 444.78,47.82 444.79,47.58 444.82,47.39 444.87,47.25 444.95,47.16 445.07,47.14 445.22,47.18 445.39,47.28 445.59,47.41 445.79,47.57 445.99,47.72 446.19,47.87 446.36,47.97 446.51,48.03 446.64,48.03 446.72,47.96 446.78,47.83 446.82,47.65 446.83,47.42 446.83,47.17 446.83,46.91 446.84,46.66 446.86,46.45 446.90,46.28 446.98,46.17 447.08,46.13 447.22,46.15 447.38,46.24 447.56,46.37 447.75,46.53 447.95,46.70 448.14,46.86 448.32,47.00 448.48,47.08 448.61,47.11 448.71,47.08 448.78,46.98 448.83,46.81 448.85,46.60 448.87,46.35 448.87,46.09 448.88,45.83 448.90,45.60 448.95,45.42 449.01,45.29 449.10,45.23 449.23,45.23 449.37,45.31 449.54,45.43 449.72,45.60 449.91,45.78 450.10,45.96 450.28,46.12 450.44,46.23 450.57,46.29 450.68,46.29 450.77,46.21 450.83,46.07 450.86,45.87 450.89,45.63 450.90,45.37 450.92,45.11 450.94,44.86 450.98,44.66 451.04,44.52 451.13,44.43 451.24,44.42 451.37,44.48 451.53,44.60 451.70,44.76 451.88,44.95 452.07,45.15 452.24,45.32 452.40,45.46 452.55,45.55 452.66,45.56 452.76,45.51 452.83,45.39 452.87,45.21 452.90,44.98 452.93,44.72 452.95,44.45 452.97,44.20 453.01,43.98 453.06,43.82 453.14,43.72 453.25,43.69 453.37,43.74 453.52,43.85 453.69,44.00 453.86,44.19 454.04,44.40 454.22,44.58 454.38,44.74 454.53,44.84 454.65,44.88 454.75,44.85 454.83,44.75 454.88,44.58 454.92,44.36 454.94,44.10 454.97,43.83 454.99,43.57 455.03,43.34 455.08,43.16 455.15,43.05 455.25,43.00 455.37,43.03 455.51,43.13 455.67,43.28 455.85,43.47 456.03,43.68 456.20,43.87 456.37,44.04 456.52,44.16 456.65,44.22 456.75,44.20 456.84,44.11 456.89,43.95 456.93,43.74 456.96,43.48 456.98,43.21 457.00,42.95 457.03,42.71 457.08,42.52 457.15,42.39 457.24,42.33 457.36,42.35 457.50,42.43 457.66,42.58 457.83,42.76 458.01,42.97 458.19,43.17 458.36,43.34 458.52,43.47 458.65,43.54 458.76,43.54 458.85,43.46 458.91,43.31 458.95,43.10 458.98,42.85 459.00,42.58 459.02,42.31 459.04,42.06 459.09,41.86 459.15,41.72 459.24,41.65 459.35,41.65 459.49,41.73 459.65,41.87 459.82,42.05 460.00,42.26 460.18,42.47 460.35,42.65 460.51,42.79 460.65,42.87 460.76,42.88 460.85,42.81 460.91,42.67 460.96,42.47 460.98,42.22 461.01,41.95 461.03,41.67 461.05,41.42 461.10,41.21 461.16,41.06 461.24,40.98 461.36,40.98 461.49,41.05 461.64,41.19 461.81,41.37 461.99,41.58 462.17,41.79 462.34,41.99 462.50,42.14 462.64,42.23 462.75,42.25 462.84,42.19 462.91,42.05 462.96,41.86 462.99,41.61 463.01,41.33 463.04,41.06 463.07,40.80 463.11,40.58 463.17,40.42 463.26,40.34 463.37,40.34 463.50,40.41 463.65,40.54 463.81,40.73 463.99,40.95 464.16,41.17 464.33,41.37 464.48,41.53 464.62,41.62 464.74,41.65 464.83,41.60 464.90,41.47 464.95,41.27 464.99,41.03 465.01,40.75 465.04,40.47 465.08,40.21 465.12,39.99 465.19,39.83 465.27,39.75 465.38,39.74 465.51,39.81 465.65,39.95 465.81,40.14 465.98,40.36 466.16,40.59 466.32,40.79 466.47,40.96 466.61,41.06 466.73,41.09 466.82,41.04 466.89,40.91 466.95,40.72 466.98,40.47 467.02,40.20 467.05,39.91 467.08,39.65 467.13,39.43 467.19,39.27 467.28,39.18 467.38,39.18 467.51,39.25 467.66,39.39 467.82,39.59 467.98,39.81 468.15,40.04 468.32,40.25 468.47,40.42 468.60,40.52 468.72,40.55 468.81,40.51 468.88,40.38 468.94,40.18 468.98,39.94 469.01,39.66 469.05,39.38 469.09,39.11 469.14,38.89 469.21,38.74 469.29,38.65 469.40,38.65 469.53,38.73 469.67,38.88 469.83,39.08 469.99,39.30 470.15,39.54 470.31,39.75 470.45,39.92 470.58,40.03 470.69,40.06 470.79,40.01 470.86,39.88 470.92,39.69 470.97,39.44 471.01,39.16 471.05,38.88 471.10,38.62 471.16,38.41 471.23,38.25 471.32,38.18 471.43,38.18 471.55,38.27 471.69,38.42 471.84,38.63 471.99,38.86 472.15,39.10 472.30,39.32 472.43,39.49 472.56,39.60 472.67,39.63 472.76,39.58 472.84,39.45 472.90,39.25 472.96,39.00 473.01,38.72 473.05,38.45 473.11,38.19 473.17,37.98 473.25,37.83 473.34,37.77 473.45,37.78 473.57,37.88 473.71,38.04 473.85,38.25 474.00,38.49 474.14,38.74 474.29,38.95 474.42,39.12 474.54,39.23 474.65,39.25 474.74,39.20 474.82,39.06 474.89,38.86 474.95,38.61 475.00,38.33 475.06,38.05 475.11,37.80 475.18,37.60 475.26,37.46 475.36,37.41 475.46,37.43 475.59,37.54 475.72,37.71 475.86,37.93 476.00,38.17 476.15,38.41 476.28,38.63 476.41,38.80 476.53,38.89 476.64,38.91 476.73,38.85 476.81,38.71 476.88,38.50 476.94,38.24 477.00,37.97 477.05,37.69 477.12,37.44 477.19,37.25 477.27,37.12 477.36,37.07 477.47,37.11 477.59,37.22 477.73,37.40 477.86,37.63 478.01,37.87 478.15,38.12 478.29,38.33 478.41,38.49 478.53,38.58 478.64,38.59 478.73,38.51 478.80,38.36 478.87,38.15 478.93,37.89 478.99,37.61 479.05,37.33 479.11,37.09 479.18,36.90 479.27,36.79 479.36,36.75 479.47,36.80 479.60,36.92 479.73,37.11 479.87,37.34 480.01,37.59 480.15,37.83 480.29,38.03 480.42,38.18 480.53,38.26 480.63,38.26 480.72,38.17 480.80,38.01 480.87,37.79 480.93,37.52 480.98,37.24 481.04,36.97 481.11,36.74 481.18,36.56 481.27,36.45 481.37,36.43 481.48,36.49 481.60,36.63 481.74,36.82 481.88,37.06 482.02,37.31 482.16,37.54 482.29,37.74 482.42,37.88 482.53,37.95 482.63,37.94 482.72,37.84 482.79,37.66 482.86,37.43 482.92,37.16 482.98,36.88 483.04,36.62 483.11,36.39 483.18,36.22 483.27,36.13 483.37,36.13 483.49,36.20 483.61,36.35 483.75,36.55 483.89,36.79 484.02,37.05 484.16,37.28 484.29,37.47 484.41,37.60 484.52,37.65 484.62,37.63 484.71,37.51 484.78,37.33 484.85,37.09 484.91,36.82 484.97,36.54 485.04,36.28 485.11,36.06 485.19,35.91 485.28,35.84 485.39,35.84 485.50,35.94 485.63,36.10 485.76,36.31 485.89,36.56 486.03,36.81 486.16,37.04 486.29,37.22 486.40,37.34 486.51,37.38 486.61,37.34 486.69,37.21 486.77,37.02 486.84,36.77 486.90,36.49 486.97,36.22 487.04,35.96 487.12,35.76 487.20,35.62 487.30,35.57 487.40,35.60 487.52,35.71 487.64,35.88 487.77,36.11 487.90,36.36 488.03,36.61 488.16,36.84 488.28,37.01 488.40,37.11 488.50,37.14 488.59,37.08 488.68,36.93 488.75,36.73 488.83,36.47 488.90,36.20 488.97,35.92 489.04,35.68 489.12,35.49 489.21,35.37 489.30,35.33 489.41,35.38 489.53,35.51 489.65,35.70 489.78,35.93 489.91,36.19 490.04,36.44 490.16,36.65 490.28,36.81 490.39,36.90 490.49,36.91 490.58,36.83 490.67,36.67 490.75,36.45 490.82,36.19 490.89,35.91 490.96,35.64 491.04,35.41 491.12,35.24 491.21,35.14 491.31,35.12 491.42,35.19 491.54,35.33 491.66,35.54 491.79,35.78 491.91,36.04 492.04,36.28 492.16,36.49 492.28,36.63 492.38,36.70 492.48,36.69 492.57,36.59 492.66,36.42 492.74,36.19 492.81,35.92 492.88,35.64 492.96,35.38 493.04,35.16 493.13,35.01 493.22,34.93 493.32,34.93 493.43,35.02 493.55,35.18 493.67,35.40 493.79,35.65 493.92,35.91 494.04,36.14 494.16,36.34 494.27,36.47 494.38,36.52 494.47,36.48 494.56,36.37 494.65,36.18 494.73,35.94 494.80,35.67 494.88,35.39 494.96,35.14 495.04,34.93 495.13,34.80 495.23,34.74 495.33,34.77 495.44,34.87 495.56,35.05 495.68,35.28 495.80,35.54 495.92,35.79 496.04,36.03 496.16,36.21 496.27,36.32 496.37,36.35 496.47,36.29 496.56,36.16 496.64,35.95 496.72,35.70 496.80,35.43 496.88,35.16 496.96,34.91 497.04,34.73 497.13,34.61 497.23,34.57 497.34,34.62 497.45,34.75 497.56,34.95 497.68,35.19 497.81,35.45 497.93,35.70 498.04,35.92 498.16,36.09 498.26,36.18 498.36,36.18 498.46,36.11 498.55,35.95 498.63,35.74 498.71,35.48 498.79,35.20 498.87,34.93 498.96,34.70 499.04,34.53 499.14,34.44 499.24,34.43 499.34,34.50 499.46,34.65 499.57,34.86 499.69,35.11 499.81,35.37 499.93,35.62 500.04,35.83 500.15,35.97 500.26,36.04 500.36,36.03 500.45,35.93 500.54,35.76 500.62,35.52 500.71,35.26 500.79,34.98 500.87,34.72 500.96,34.51 501.05,34.36 501.14,34.29 501.24,34.30 501.35,34.40 501.46,34.57 501.58,34.79 501.70,35.05 501.81,35.31 501.93,35.55 502.04,35.74 502.15,35.87 502.25,35.91 502.35,35.88 502.44,35.76 502.53,35.56 502.62,35.32 502.70,35.05 502.78,34.78 502.87,34.53 502.96,34.33 503.05,34.20 503.15,34.16 503.25,34.19 503.36,34.31 503.47,34.50 503.59,34.74 503.70,35.00 503.82,35.26 503.93,35.49 504.04,35.66 504.15,35.77 504.25,35.79 504.35,35.73 504.44,35.59 504.53,35.38 504.61,35.13 504.70,34.85 504.78,34.58 504.87,34.35 504.96,34.17 505.05,34.07 505.15,34.04 505.26,34.11 505.37,34.25 505.48,34.46 505.59,34.70 505.71,34.97 505.82,35.22 505.93,35.44 506.04,35.60 506.14,35.68 506.24,35.68 506.34,35.59 506.43,35.43 506.52,35.20 506.61,34.94 506.69,34.67 506.78,34.41 506.87,34.19 506.96,34.03 507.06,33.95 507.16,33.95 507.26,34.04 507.37,34.20 507.48,34.43 507.60,34.68 507.71,34.95 507.82,35.19 507.93,35.39 508.04,35.53 508.14,35.59 508.24,35.56 508.33,35.45 508.43,35.27 508.51,35.03 508.60,34.76 508.69,34.49 508.78,34.24 508.87,34.04 508.96,33.90 509.06,33.85 509.16,33.88 509.27,33.99 509.38,34.18 509.49,34.41 509.60,34.67 509.71,34.93 509.82,35.17 509.93,35.35 510.04,35.47 510.14,35.50 510.23,35.45 510.33,35.31 510.42,35.11 510.51,34.86 510.60,34.59 510.69,34.32 510.78,34.08 510.87,33.90 510.97,33.79 511.06,33.76 511.17,33.82 511.27,33.96 511.38,34.16 511.49,34.41 511.60,34.67 511.71,34.93 511.82,35.15 511.93,35.31 512.03,35.40 512.13,35.41 512.23,35.33 512.32,35.18 512.42,34.96 512.51,34.70 512.59,34.42 512.68,34.16 512.78,33.94 512.87,33.78 512.97,33.69 513.07,33.69 513.17,33.77 513.28,33.93 513.39,34.15 513.50,34.41 513.61,34.67 513.72,34.92 513.82,35.13 513.93,35.27 514.03,35.34 514.13,35.32 514.23,35.21 514.32,35.03 514.41,34.80 514.50,34.53 514.59,34.26 514.68,34.01 514.77,33.80 514.87,33.66 514.97,33.61 515.07,33.63 515.17,33.74 515.28,33.92 515.39,34.16 515.50,34.42 515.61,34.68 515.72,34.92 515.83,35.11 515.93,35.23 516.03,35.27 516.13,35.22 516.22,35.09 516.32,34.89 516.41,34.64 516.50,34.37 516.59,34.10 516.68,33.86 516.77,33.68 516.87,33.56 516.97,33.53 517.07,33.59 517.18,33.72 517.28,33.92 517.39,34.17 517.50,34.43 517.61,34.69 517.72,34.92 517.83,35.09 517.93,35.18 518.03,35.19 518.13,35.11 518.22,34.96 518.31,34.74 518.41,34.49 518.50,34.21 518.59,33.95 518.68,33.73 518.77,33.56 518.87,33.48 518.97,33.47 519.07,33.55 519.18,33.71 519.29,33.93 519.40,34.19 519.51,34.45 519.61,34.70 519.72,34.91 519.83,35.06 519.93,35.13 520.03,35.11 520.12,35.01 520.22,34.83 520.31,34.60 520.40,34.33 520.49,34.06 520.59,33.81 520.68,33.60 520.77,33.46 520.87,33.40 520.97,33.43 521.08,33.54 521.18,33.72 521.29,33.95 521.40,34.21 521.51,34.48 521.62,34.72 521.72,34.91 521.82,35.03 521.93,35.07 522.02,35.02 522.12,34.89 522.21,34.70 522.31,34.45 522.40,34.18 522.49,33.91 522.58,33.67 522.68,33.49 522.78,33.37 522.87,33.34 522.98,33.39 523.08,33.53 523.19,33.73 523.29,33.98 523.40,34.24 523.51,34.50 523.62,34.73 523.72,34.90 523.82,34.99 523.93,35.00 524.02,34.93 524.12,34.77 524.21,34.56 524.30,34.30 524.40,34.03 524.49,33.77 524.58,33.54 524.68,33.38 524.78,33.29 524.88,33.29 524.98,33.37 525.08,33.53 525.19,33.75 525.30,34.01 525.40,34.27 525.51,34.53 525.62,34.73 525.72,34.88 525.82,34.95 525.92,34.93 526.02,34.83 526.12,34.65 526.21,34.42 526.30,34.15 526.39,33.88 526.49,33.63 526.58,33.42 526.68,33.28 526.78,33.23 526.88,33.25 526.98,33.36 527.09,33.55 527.19,33.78 527.30,34.04 527.41,34.31 527.51,34.55 527.62,34.74 527.72,34.86 527.82,34.90 527.92,34.85 528.02,34.72 528.11,34.52 528.21,34.28 528.30,34.01 528.39,33.74 528.49,33.50 528.58,33.32 528.68,33.20 528.78,33.18 528.88,33.23 528.99,33.37 529.09,33.57 529.20,33.82 529.30,34.09 529.41,34.35 529.51,34.58 529.61,34.74 529.72,34.84 529.82,34.85 529.91,34.77 530.01,34.62 530.11,34.40 530.20,34.14 530.30,33.87 530.39,33.61 530.49,33.39 530.59,33.23 530.68,33.15 530.78,33.15 530.89,33.23 530.99,33.40 531.09,33.62 531.20,33.88 531.30,34.15 531.41,34.40 531.51,34.61 531.61,34.75 531.72,34.81 531.82,34.79 531.91,34.69 532.01,34.51 532.11,34.28 532.20,34.01 532.30,33.74 532.39,33.49 532.49,33.29 532.59,33.16 532.68,33.10 532.79,33.13 532.89,33.25 532.99,33.43 533.10,33.67 533.20,33.93 533.30,34.20 533.41,34.44 533.51,34.63 533.61,34.75 533.72,34.78 533.81,34.73 533.91,34.60 534.01,34.40 534.10,34.15 534.20,33.88 534.29,33.62 534.39,33.38 534.49,33.20 534.59,33.09 534.69,33.07 534.79,33.13 534.89,33.27 534.99,33.48 535.10,33.73 535.20,33.99 535.31,34.25 535.41,34.48 535.51,34.64 535.61,34.73 535.71,34.74 535.81,34.66 535.91,34.50 536.01,34.28 536.10,34.03 536.20,33.75 536.29,33.50 536.39,33.28 536.49,33.12 536.59,33.04 536.69,33.05 536.79,33.14 536.89,33.30 536.99,33.53 537.10,33.79 537.20,34.06 537.31,34.31 537.41,34.51 537.51,34.65 537.61,34.72 537.71,34.69 537.81,34.58 537.91,34.40 538.00,34.17 538.10,33.90 538.20,33.63 538.29,33.38 538.39,33.18 538.49,33.05 538.59,33.00 538.69,33.04 538.79,33.16 538.89,33.35 539.00,33.59 539.10,33.86 539.20,34.12 539.31,34.36 539.41,34.54 539.51,34.66 539.61,34.69 539.71,34.64 539.81,34.50 539.91,34.30 540.00,34.05 540.10,33.78 540.20,33.51 540.29,33.28 540.39,33.10 540.49,33.00 540.59,32.98 540.69,33.05 540.79,33.20 540.90,33.41 541.00,33.66 541.10,33.93 541.20,34.19 541.31,34.41 541.41,34.57 541.51,34.66 541.61,34.66 541.71,34.58 541.81,34.41 541.90,34.19 542.00,33.93 542.10,33.66 542.20,33.41 542.30,33.19 542.39,33.04 542.49,32.97 542.59,32.98 542.69,33.08 542.80,33.25 542.90,33.48 543.00,33.74 543.10,34.01 543.20,34.26 543.30,34.46 543.40,34.60 543.50,34.65 543.60,34.62 543.70,34.51 543.80,34.33 543.90,34.09 544.00,33.82 544.10,33.56 544.20,33.31 544.30,33.12 544.40,32.99 544.50,32.95 544.60,33.00 544.70,33.12 544.80,33.32 544.90,33.56 545.00,33.83 545.10,34.09 545.20,34.33 545.30,34.51 545.40,34.62 545.50,34.65 545.60,34.59 545.70,34.45 545.80,34.24 545.90,33.99 546.00,33.72 546.10,33.46 546.20,33.23 546.30,33.06 546.40,32.96 546.50,32.95 546.60,33.03 546.70,33.18 546.80,33.39 546.90,33.65 547.00,33.92 547.10,34.18 547.20,34.40 547.30,34.56 547.40,34.64 547.50,34.63 547.60,34.54 547.70,34.38 547.80,34.15 547.90,33.89 548.00,33.62 548.10,33.37 548.20,33.16 548.30,33.01 548.40,32.95 548.50,32.97 548.60,33.07 548.70,33.25 548.80,33.48 548.90,33.74 549.00,34.01 549.10,34.26 549.20,34.46 549.30,34.59 549.40,34.64 549.50,34.61 549.60,34.49 549.70,34.30 549.80,34.06 549.90,33.79 550.00,33.52 550.10,33.28 550.20,33.09 550.30,32.98 550.40,32.94 550.50,32.99 550.60,33.12 550.70,33.32 550.80,33.57 550.90,33.84 551.00,34.10 551.10,34.33 551.20,34.51 551.30,34.61 551.40,34.63 551.50,34.57 551.60,34.42 551.70,34.21 551.80,33.96 551.90,33.69 552.00,33.43 552.10,33.21 552.20,33.04 552.30,32.95 552.40,32.94 552.50,33.03 552.60,33.18 552.70,33.40 552.80,33.66 552.90,33.93 553.00,34.19 553.10,34.40 553.20,34.55 553.30,34.63 553.40,34.62 553.50,34.52 553.60,34.35 553.70,34.12 553.80,33.86 553.90,33.59 554.00,33.34 554.10,33.14 554.20,32.99 554.30,32.93 554.40,32.96 554.50,33.07 554.60,33.25 554.70,33.49 554.80,33.75 554.90,34.02 555.00,34.27 555.10,34.46 555.20,34.59 555.30,34.63 555.40,34.59 555.50,34.47 555.60,34.27 555.70,34.03 555.80,33.76 555.90,33.50 556.00,33.26 556.10,33.07 556.20,32.96 556.30,32.93 556.40,32.99 556.50,33.12 556.60,33.33 556.70,33.58 556.80,33.85 556.90,34.11 557.00,34.34 557.10,34.51 557.20,34.61 557.30,34.62 557.40,34.55 557.50,34.40 557.60,34.19 557.70,33.93 557.80,33.66 557.90,33.40 558.00,33.18 558.10,33.02 558.20,32.94 558.30,32.94 558.40,33.03 558.50,33.19 558.60,33.41 558.70,33.67 558.80,33.94 558.90,34.19 559.00,34.41 559.10,34.55 559.20,34.62 559.30,34.60 559.40,34.50 559.50,34.33 559.60,34.10 559.70,33.83 559.80,33.56 559.90,33.31 560.00,33.11 560.10,32.98 560.20,32.93 560.30,32.96 560.40,33.07 560.50,33.26 560.60,33.50 560.70,33.76 560.80,34.03 560.90,34.27 561.00,34.46 561.10,34.58 561.20,34.62 561.30,34.57 561.40,34.45 561.50,34.25 561.60,34.00 561.70,33.73 561.80,33.47 561.90,33.23 562.00,33.05 562.10,32.95 562.20,32.92 562.30,32.99 562.40,33.13 562.50,33.34 562.60,33.59 562.70,33.86 562.80,34.12 562.90,34.35 563.00,34.51 563.10,34.61 563.20,34.61 563.30,34.53 563.40,34.38 563.50,34.16 563.60,33.90 563.70,33.63 563.80,33.38 563.90,33.16 564.00,33.00 564.10,32.93 564.20,32.93 564.30,33.03 564.40,33.20 564.50,33.42 564.60,33.68 564.70,33.95 564.80,34.20 564.90,34.41 565.00,34.55 565.10,34.62 565.20,34.59 565.30,34.48 565.40,34.30 565.50,34.07 565.60,33.80 565.70,33.54 565.80,33.29 565.90,33.09 566.00,32.96 566.10,32.92 566.20,32.96 566.30,33.08 566.40,33.27 566.50,33.51 566.60,33.78 566.70,34.05 566.80,34.28 566.90,34.47 567.00,34.58 567.10,34.62 567.20,34.56 567.30,34.43 567.40,34.22 567.50,33.97 567.60,33.70 567.70,33.44 567.80,33.21 567.90,33.04 568.00,32.94 568.10,32.92 568.20,32.99 568.30,33.14 568.40,33.35 568.50,33.60 568.60,33.87 568.70,34.13 568.80,34.36 568.90,34.52 569.00,34.60 569.10,34.60 569.20,34.52 569.30,34.36 569.40,34.14 569.50,33.88 569.60,33.61 569.70,33.35 569.80,33.14 569.90,32.99 570.00,32.92 570.10,32.93 570.20,33.03 570.30,33.21 570.40,33.44 570.50,33.70 570.60,33.97 570.70,34.22 570.80,34.42 570.90,34.56 571.00,34.61 571.10,34.58 571.20,34.47 571.30,34.28 571.40,34.04 571.50,33.78 571.60,33.51 571.70,33.27 571.80,33.07 571.90,32.95 572.00,32.91 572.10,32.96 572.20,33.08 572.30,33.28 572.40,33.53 572.50,33.79 572.60,34.06 572.70,34.29 572.80,34.48 572.90,34.58 573.00,34.61 573.10,34.55 573.20,34.41 573.30,34.20 573.40,33.95 573.50,33.68 573.60,33.42 573.70,33.19 573.80,33.02 573.90,32.93 574.00,32.92 574.10,32.99 574.20,33.15 574.30,33.36 574.40,33.62 574.50,33.89 574.60,34.15 574.70,34.37 574.80,34.52 574.90,34.60 575.00,34.59 575.10,34.50 575.20,34.34 575.30,34.11 575.40,33.85 575.50,33.58 575.60,33.33 575.70,33.12 575.80,32.98 575.90,32.91 576.00,32.93 576.10,33.04 576.20,33.22 576.30,33.45 576.40,33.71 576.50,33.98 576.60,34.23 576.70,34.43 576.80,34.56 576.90,34.61 577.00,34.57 577.10,34.45 577.20,34.26 577.30,34.02 577.40,33.75 577.50,33.48 577.60,33.24 577.70,33.06 577.80,32.94 577.90,32.91 578.00,32.96 578.10,33.09 578.20,33.29 578.30,33.54 578.40,33.81 578.50,34.08 578.60,34.31 578.70,34.48 578.80,34.58 578.90,34.60 579.00,34.53 579.10,34.39 579.20,34.18 579.30,33.92 579.40,33.65 579.50,33.39 579.60,33.17 579.70,33.01 579.80,32.92 579.90,32.92 580.00,33.00 580.10,33.16 580.20,33.38 580.30,33.64 580.40,33.91 580.50,34.16 580.60,34.38 580.70,34.53 580.80,34.60 580.90,34.59 581.00,34.49 581.10,34.32 581.20,34.09 581.30,33.83 581.40,33.56 581.50,33.31 581.60,33.10 581.70,32.96 581.80,32.91 581.90,32.93 582.00,33.05 582.10,33.23 582.20,33.47 582.30,33.73 582.40,34.00 582.50,34.24 582.60,34.44 582.70,34.56 582.80,34.60 582.90,34.56 583.00,34.43 583.10,34.24 583.20,34.00 583.30,33.73 583.40,33.46 583.50,33.22 583.60,33.04 583.70,32.93 583.80,32.91 583.90,32.96 584.00,33.10 584.10,33.31 584.20,33.56 584.30,33.83 584.40,34.09 584.50,34.32 584.60,34.49 584.70,34.59 584.80,34.60 584.90,34.52 585.00,34.37 585.10,34.15 585.20,33.90 585.30,33.63 585.40,33.37 585.50,33.15 585.60,32.99 585.70,32.91 585.80,32.92 585.90,33.01 586.00,33.17 586.10,33.39 586.20,33.66 586.30,33.93 586.40,34.18 586.50,34.39 586.60,34.53 586.70,34.60 586.80,34.58 586.90,34.48 587.00,34.30 587.10,34.07 587.20,33.80 587.30,33.53 587.40,33.28 587.50,33.09 587.60,32.95 587.70,32.90 587.80,32.94 587.90,33.06 588.00,33.24 588.10,33.48 588.20,33.75 588.30,34.02 588.40,34.26 588.50,34.45 588.60,34.57 588.70,34.60 588.80,34.55 588.90,34.42 589.00,34.22 589.10,33.97 589.20,33.70 589.30,33.44 589.40,33.21 589.50,33.03 589.60,32.92 589.70,32.90 589.80,32.97 589.90,33.12 590.00,33.33 590.10,33.58 590.20,33.85 590.30,34.11 590.40,34.33 590.50,34.50 590.60,34.59 590.70,34.59 590.80,34.51 590.90,34.35 591.00,34.13 591.10,33.88 591.20,33.60 591.30,33.35 591.40,33.13 591.50,32.98 591.60,32.91 591.70,32.92 591.80,33.01 591.90,33.18 592.00,33.41 592.10,33.67 592.20,33.95 592.30,34.20 592.40,34.40 592.50,34.54 592.60,34.60 592.70,34.57 592.80,34.46 592.90,34.28 593.00,34.04 593.10,33.78 593.20,33.51 593.30,33.26 593.40,33.07 593.50,32.94 593.60,32.90 593.70,32.94 593.80,33.07 593.90,33.26 594.00,33.50 594.10,33.77 594.20,34.04 594.30,34.28 594.40,34.46 594.50,34.57 594.60,34.60 594.70,34.54 594.80,34.40 594.90,34.20 595.00,33.95 595.10,33.68 595.20,33.42 595.30,33.19 595.40,33.02 595.50,32.92 595.60,32.91 595.70,32.98 595.80,33.13 595.90,33.34 596.00,33.60 596.10,33.87 596.20,34.13 596.30,34.35 596.40,34.51 596.50,34.59 596.60,34.59 596.70,34.50 596.80,34.34 596.90,34.11 597.00,33.85 597.10,33.58 597.20,33.33 597.30,33.12 597.40,32.97 597.50,32.90 597.60,32.92 597.70,33.02 597.80,33.20 597.90,33.43 598.00,33.70 598.10,33.97 598.20,34.21 598.30,34.41 598.40,34.55 598.50,34.60 598.60,34.57 598.70,34.45 598.80,34.26 598.90,34.02 599.00,33.76 599.10,33.49 599.20,33.25 599.30,33.06 599.40,32.94 599.50,32.90 599.60,32.95 599.70,33.08 599.80,33.28 599.90,33.52 600.00,33.79 600.10,34.06 600.20,34.29 600.30,34.47 600.40,34.58 600.50,34.60 600.60,34.53 600.70,34.39 600.80,34.18 600.90,33.93 601.00,33.66 601.10,33.40 601.20,33.17 601.30,33.00 601.40,32.91 601.50,32.91 601.60,32.99 601.70,33.14 601.80,33.36 601.90,33.62 602.00,33.89 602.10,34.15 602.20,34.36 602.30,34.52 602.40,34.59 602.50,34.58 602.60,34.49 602.70,34.32 602.80,34.09 602.90,33.83 603.00,33.56 603.10,33.31 603.20,33.10 603.30,32.96 603.40,32.90 603.50,32.93 603.60,33.04 603.70,33.22 603.80,33.45 603.90,33.72 604.00,33.99 604.10,34.23 604.20,34.43 604.30,34.55 604.40,34.60 604.50,34.56 604.60,34.44 604.70,34.24 604.80,34.00 604.90,33.73 605.00,33.47 605.10,33.23 605.20,33.04 605.30,32.93 605.40,32.90 605.50,32.96 605.60,33.09 605.70,33.30 605.80,33.55 605.90,33.82 606.00,34.08 606.10,34.31 606.20,34.48 606.30,34.58 606.40,34.60 606.50,34.52 606.60,34.38 606.70,34.16 606.80,33.91 606.90,33.64 607.00,33.38 607.10,33.16 607.20,33.00 607.30,32.91 607.40,32.91 607.50,33.00 607.60,33.16 607.70,33.38 607.80,33.64 607.90,33.91 608.00,34.17 608.10,34.38 608.20,34.53 608.30,34.60 608.40,34.58 608.50,34.48 608.60,34.31 608.70,34.07 608.80,33.81 608.90,33.54 609.00,33.29 609.10,33.09 609.20,32.96 609.30,32.90 609.40,32.93 609.50,33.05 609.60,33.24 609.70,33.47 609.80,33.74 609.90,34.01 610.00,34.25 610.10,34.44 610.20,34.56 610.30,34.60 610.40,34.55 610.50,34.43 610.60,34.23 610.70,33.98 610.80,33.71 610.90,33.45 611.00,33.21 611.10,33.03 611.20,32.93 611.30,32.90 611.40,32.97 611.50,33.11 611.60,33.32 611.70,33.57 611.80,33.84 611.90,34.10 612.00,34.33 612.10,34.50 612.20,34.59 612.30,34.60 612.40,34.52 612.50,34.36 612.60,34.14 612.70,33.89 612.80,33.62 612.90,33.36 613.00,33.14 613.10,32.99 613.20,32.91 613.30,32.92 613.40,33.01 613.50,33.18 613.60,33.41 613.70,33.67 613.80,33.94 613.90,34.19 614.00,34.40 614.10,34.54 614.20,34.60 614.30,34.58 614.40,34.47 614.50,34.29 614.60,34.06 614.70,33.79 614.80,33.52 614.90,33.28 615.00,33.08 615.10,32.95 615.20,32.90 615.30,32.94 615.40,33.06 615.50,33.26 615.60,33.50 615.70,33.77 615.80,34.03 615.90,34.27 616.00,34.46 616.10,34.57 616.20,34.60 616.30,34.55 616.40,34.41 616.50,34.21 616.60,33.96 616.70,33.69 616.80,33.43 616.90,33.20 617.00,33.03 617.10,32.93 617.20,32.91 617.30,32.98 617.40,33.13 617.50,33.34 617.60,33.59 617.70,33.86 617.80,34.12 617.90,34.35 618.00,34.51 618.10,34.59 618.20,34.60 618.30,34.51 618.40,34.35 618.50,34.13 618.60,33.87 618.70,33.60 618.80,33.34 618.90,33.13 619.00,32.98 619.10,32.91 619.20,32.93 619.30,33.03 619.40,33.20 619.50,33.43 619.60,33.69 619.70,33.96 619.80,34.21 619.90,34.41 620.00,34.55 620.10,34.61 620.20,34.58 620.30,34.46 620.40,34.28 620.50,34.04 620.60,33.77 620.70,33.51 620.80,33.26 620.90,33.07 621.00,32.95 621.10,32.91 621.20,32.95 621.30,33.08 621.40,33.28 621.50,33.52 621.60,33.79 621.70,34.06 621.80,34.29 621.90,34.47 622.00,34.58 622.10,34.61 622.20,34.55 622.30,34.40 622.40,34.20 622.50,33.95 622.60,33.68 622.70,33.42 622.80,33.19 622.90,33.02 623.00,32.93 623.10,32.92 623.20,32.99 623.30,33.15 623.40,33.36 623.50,33.62 623.60,33.89 623.70,34.15 623.80,34.37 623.90,34.52 624.00,34.60 624.10,34.60 624.20,34.50 624.30,34.34 624.40,34.11 624.50,33.85 624.60,33.58 624.70,33.33 624.80,33.12 624.90,32.98 625.00,32.91 625.10,32.94 625.20,33.04 625.30,33.22 625.40,33.45 625.50,33.72 625.60,33.99 625.70,34.23 625.80,34.43 625.90,34.56 626.00,34.61 626.10,34.57 626.20,34.45 626.30,34.26 626.40,34.02 626.50,33.76 626.60,33.49 626.70,33.25 626.80,33.06 626.90,32.95 627.00,32.91 627.10,32.97 627.20,33.10 627.30,33.30 627.40,33.55 627.50,33.82 627.60,34.08 627.70,34.31 627.80,34.49 627.90,34.59 628.00,34.61 628.10,34.54 628.20,34.40 628.30,34.18 628.40,33.93 628.50,33.66 628.60,33.40 628.70,33.18 628.80,33.01 628.90,32.93 629.00,32.92 629.10,33.01 629.20,33.17 629.30,33.39 629.40,33.65 629.50,33.92 629.60,34.17 629.70,34.39 629.80,34.54 629.90,34.61 630.00,34.60 630.10,34.50 630.20,34.33 630.30,34.10 630.40,33.84 630.50,33.57 630.60,33.32 630.70,33.11 630.80,32.98 630.90,32.92 631.00,32.95 631.10,33.06 631.20,33.24 631.30,33.48 631.40,33.74 631.50,34.01 631.60,34.26 631.70,34.45 631.80,34.57 631.90,34.62 632.00,34.57 632.10,34.45 632.20,34.25 632.30,34.01 632.40,33.74 632.50,33.48 632.60,33.24 632.70,33.06 632.80,32.95 632.90,32.92 633.00,32.98 633.10,33.12 633.20,33.32 633.30,33.57 633.40,33.84 633.50,34.11 633.60,34.34 633.70,34.51 633.80,34.60 633.90,34.61 634.00,34.54 634.10,34.39 634.20,34.17 634.30,33.92 634.40,33.65 634.50,33.39 634.60,33.17 634.70,33.01 634.80,32.93 634.90,32.93 635.00,33.02 635.10,33.19 635.20,33.41 635.30,33.67 635.40,33.94 635.50,34.20 635.60,34.41 635.70,34.55 635.80,34.62 635.90,34.60 636.00,34.50 636.10,34.32 636.20,34.09 636.30,33.82 636.40,33.55 636.50,33.31 636.60,33.11 636.70,32.97 636.80,32.92 636.90,32.96 637.00,33.08 637.10,33.27 637.20,33.51 637.30,33.77 637.40,34.04 637.50,34.28 637.60,34.47 637.70,34.59 637.80,34.62 637.90,34.57 638.00,34.44 638.10,34.24 638.20,34.00 638.30,33.73 638.40,33.46 638.50,33.23 638.60,33.05 638.70,32.95 638.80,32.93 638.90,32.99 639.00,33.14 639.10,33.35 639.20,33.60 639.30,33.87 639.40,34.13 639.50,34.36 639.60,34.52 639.70,34.61 639.80,34.62 639.90,34.54 640.00,34.38 640.10,34.16 640.20,33.90 640.30,33.63 640.40,33.38 640.50,33.16 640.60,33.01 640.70,32.93 640.80,32.95 640.90,33.04 641.00,33.21 641.10,33.44 641.20,33.70 641.30,33.97 641.40,34.22 641.50,34.43 641.60,34.57 641.70,34.63 641.80,34.60 641.90,34.49 642.00,34.31 642.10,34.08 642.20,33.81 642.30,33.54 642.40,33.30 642.50,33.10 642.60,32.98 642.70,32.93 642.80,32.97 642.90,33.10 643.00,33.29 643.10,33.53 643.20,33.80 643.30,34.07 643.40,34.30 643.50,34.49 643.60,34.60 643.70,34.63 643.80,34.57 643.90,34.44 644.00,34.23 644.10,33.98 644.20,33.72 644.30,33.45 644.40,33.22 644.50,33.05 644.60,32.95 644.70,32.94 644.80,33.01 644.90,33.16 645.00,33.38 645.10,33.63 645.20,33.90 645.30,34.16 645.40,34.38 645.50,34.54 645.60,34.63 645.70,34.62 645.80,34.54 645.90,34.37 646.00,34.15 646.10,33.89 646.20,33.62 646.30,33.37 646.40,33.16 646.50,33.01 646.60,32.94 646.70,32.96 646.80,33.06 646.90,33.23 647.00,33.47 647.10,33.73 647.20,34.00 647.30,34.25 647.40,34.45 647.50,34.58 647.60,34.64 647.70,34.61 647.80,34.49 647.90,34.30 648.00,34.07 648.10,33.80 648.20,33.53 648.30,33.29 648.40,33.10 648.50,32.98 648.60,32.94 648.70,32.99 648.80,33.12 648.90,33.32 649.00,33.56 649.10,33.83 649.20,34.10 649.30,34.33 649.40,34.51 649.50,34.62 649.60,34.64 649.70,34.58 649.80,34.43 649.90,34.23 650.00,33.97 650.10,33.70 650.20,33.44 650.30,33.22 650.40,33.05 650.50,32.96 650.60,32.95 650.70,33.03 650.80,33.18 650.90,33.40 651.00,33.66 651.10,33.93 651.20,34.19 651.30,34.40 651.40,34.56 651.50,34.64 651.60,34.63 651.70,34.54 651.80,34.37 651.90,34.14 652.00,33.88 652.10,33.61 652.20,33.36 652.30,33.15 652.40,33.01 652.50,32.95 652.60,32.97 652.70,33.08 652.80,33.26 652.90,33.49 653.00,33.76 653.10,34.03 653.20,34.27 653.30,34.47 653.40,34.60 653.50,34.65 653.60,34.61 653.70,34.49 653.80,34.30 653.90,34.06 654.00,33.79 654.10,33.52 654.20,33.28 654.30,33.10 654.40,32.98 654.50,32.95 654.60,33.01 654.70,33.14 654.80,33.34 654.90,33.59 655.00,33.86 655.10,34.12 655.20,34.36 655.30,34.53 655.40,34.63 655.50,34.65 655.60,34.58 655.70,34.43 655.80,34.22 655.90,33.97 656.00,33.70 656.10,33.44 656.20,33.21 656.30,33.05 656.40,32.97 656.50,32.96 656.60,33.05 656.70,33.21 656.80,33.43 656.90,33.69 657.00,33.96 657.10,34.22 657.20,34.43 657.30,34.58 657.40,34.65 657.50,34.64 657.60,34.54 657.70,34.37 657.80,34.14 657.90,33.87 658.00,33.60 658.10,33.36 658.20,33.15 658.30,33.02 658.40,32.96 658.50,32.99 658.60,33.10 658.70,33.29 658.80,33.52 658.90,33.79 659.00,34.06 659.10,34.30 659.20,34.49 659.30,34.62 659.40,34.66 659.50,34.62 659.60,34.49 659.70,34.29 659.80,34.05 659.90,33.78 660.00,33.52 660.10,33.28 660.20,33.10 660.30,32.99 660.40,32.96 660.50,33.02 660.60,33.16 660.70,33.37 660.80,33.62 660.90,33.89 661.00,34.15 661.10,34.38 661.20,34.55 661.30,34.65 661.40,34.66 661.50,34.58 661.60,34.43 661.70,34.21 661.80,33.96 661.90,33.69 662.00,33.43 662.10,33.21 662.20,33.05 662.30,32.97 662.40,32.98 662.50,33.07 662.60,33.24 662.70,33.46 662.80,33.72 662.90,33.99 663.00,34.24 663.10,34.45 663.20,34.60 663.30,34.66 663.40,34.64 663.50,34.54 663.60,34.36 663.70,34.13 663.80,33.87 663.90,33.60 664.00,33.35 664.10,33.15 664.20,33.02 664.30,32.97 664.40,33.01 664.50,33.12 664.60,33.31 664.70,33.55 664.80,33.82 664.90,34.09 665.00,34.33 665.10,34.52 665.20,34.64 665.30,34.67 665.40,34.62 665.50,34.49 665.60,34.29 665.70,34.04 665.80,33.77 665.90,33.51 666.00,33.28 666.10,33.10 666.20,33.00 666.30,32.98 666.40,33.04 666.50,33.19 666.60,33.40 666.70,33.65 666.80,33.92 666.90,34.18 667.00,34.41 667.10,34.57 667.20,34.66 667.30,34.67 667.40,34.59 667.50,34.43 667.60,34.21 667.70,33.95 667.80,33.68 667.90,33.43 668.00,33.21 668.10,33.06 668.20,32.99 668.30,33.00 668.40,33.09 668.50,33.26 668.60,33.49 668.70,33.75 668.80,34.02 668.90,34.27 669.00,34.48 669.10,34.62 669.20,34.68 669.30,34.65 669.40,34.54 669.50,34.36 669.60,34.13 669.70,33.86 669.80,33.59 669.90,33.35 670.00,33.15 670.10,33.03 670.20,32.98 670.30,33.03 670.40,33.15 670.50,33.34 670.60,33.59 670.70,33.85 670.80,34.12 670.90,34.36 671.00,34.54 671.10,34.66 671.20,34.68 671.30,34.63 671.40,34.49 671.50,34.29 671.60,34.04 671.70,33.77 671.80,33.51 671.90,33.28 672.00,33.11 672.10,33.01 672.20,32.99 672.30,33.07 672.40,33.22 672.50,33.43 672.60,33.68 672.70,33.95 672.80,34.21 672.90,34.44 673.00,34.60 673.10,34.68 673.20,34.68 673.30,34.59 673.40,34.43 673.50,34.21 673.60,33.95 673.70,33.68 673.80,33.43 673.90,33.21 674.00,33.07 674.10,33.00 674.20,33.01 674.30,33.11 674.40,33.29 674.50,33.52 674.60,33.78 674.70,34.05 674.80,34.30 674.90,34.51 675.00,34.64 675.10,34.69 675.20,34.66 675.30,34.55 675.40,34.36 675.50,34.13 675.60,33.86 675.70,33.59 675.80,33.35 675.90,33.16 676.00,33.04 676.10,33.00 676.20,33.05 676.30,33.17 676.40,33.37 676.50,33.62 676.60,33.89 676.70,34.15 676.80,34.39"/>
<g class="lg">
<rect x="94.7" y="28.1" width="200.1" height="54.3" fill="#fff" stroke="#505050" stroke-width="1.3"/>
<line x1="101.6" y1="41.6" x2="128.4" y2="41.6" stroke="#00b050" stroke-width="3" stroke-linecap="round"/>
<line x1="101.6" y1="69.0" x2="128.4" y2="69.0" stroke="#ff0000" stroke-width="3" stroke-linecap="round"/>
<text x="132.2" y="47.1">Cambered-out Clark Y</text>
<text x="132.2" y="74.5">Cambered-out S1210</text>
</g>
</svg>
</body>
</html>
